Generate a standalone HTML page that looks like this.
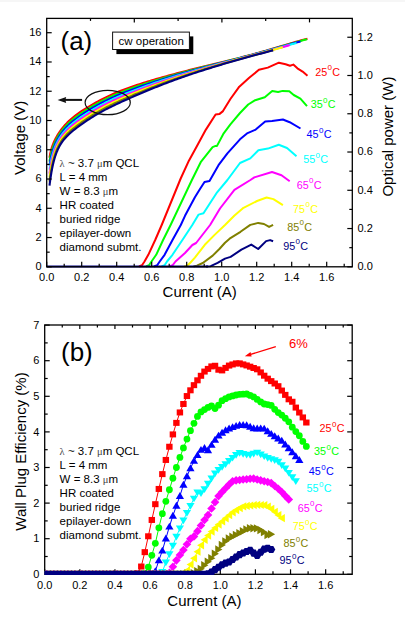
<!DOCTYPE html><html><head><meta charset="utf-8"><style>html,body{margin:0;padding:0;background:#fff;}svg{display:block;}</style></head><body>
<svg width="405" height="618" viewBox="0 0 405 618">
<rect x="0" y="0" width="405" height="618" fill="#fff"/>
<rect x="0" y="0" width="405" height="2" fill="#f6f6f6"/>
<g fill="none" stroke-width="2.1" stroke-linejoin="round" stroke-linecap="butt">
<path stroke="#FF0000" d="M49.52,157.73 L49.63,157.02 L49.75,156.30 L49.88,155.57 L50.02,154.82 L50.16,154.07 L50.33,153.30 L50.50,152.52 L50.69,151.72 L50.89,150.91 L51.11,150.09 L51.34,149.24 L51.60,148.38 L51.88,147.50 L52.17,146.60 L52.50,145.68 L52.84,144.73 L53.22,143.77 L53.63,142.77 L54.06,141.76 L54.54,140.71 L55.05,139.64 L55.61,138.54 L56.21,137.41 L56.86,136.25 L57.56,135.06 L58.32,133.83 L59.14,132.57 L60.02,131.28 L60.98,129.96 L63.00,127.38 L65.02,125.03 L67.06,122.87 L69.11,120.87 L71.16,119.02 L73.21,117.29 L75.27,115.66 L77.33,114.11 L79.40,112.64 L81.47,111.23 L83.53,109.87 L85.60,108.56 L87.67,107.28 L89.75,106.04 L91.82,104.83 L93.89,103.65 L95.96,102.50 L98.04,101.38 L100.11,100.28 L102.18,99.20 L104.25,98.16 L106.33,97.14 L108.40,96.14 L110.48,95.18 L112.55,94.24 L114.62,93.33 L116.70,92.44 L118.77,91.58 L120.84,90.75 L122.92,89.94 L124.99,89.16 L127.07,88.39 L129.14,87.64 L131.21,86.92 L133.29,86.21 L135.36,85.51 L137.44,84.82 L139.51,84.15 L141.58,83.49 L143.66,82.84 L145.73,82.20 L147.81,81.56 L149.88,80.94 L151.95,80.32 L154.03,79.70 L156.10,79.10 L158.18,78.50 L160.25,77.91 L162.32,77.32 L164.40,76.73 L166.47,76.16 L168.55,75.59 L170.62,75.02 L172.69,74.46 L174.77,73.90 L176.84,73.35 L178.92,72.80 L180.99,72.26 L183.06,71.72 L185.14,71.18 L187.21,70.65 L189.28,70.12 L191.36,69.60 L193.43,69.08 L195.51,68.56 L197.58,68.05 L199.65,67.54 L201.73,67.03 L203.80,66.52 L205.88,66.02 L207.95,65.51 L210.02,65.01 L212.10,64.51 L214.17,64.01 L216.25,63.51 L218.32,63.01 L220.39,62.51 L222.47,62.00 L224.54,61.50 L226.62,61.00 L228.69,60.49 L230.76,59.98 L232.84,59.47 L234.91,58.96 L236.99,58.44 L239.06,57.92 L241.13,57.40 L243.21,56.87 L245.28,56.34 L247.36,55.80 L249.43,55.25 L251.50,54.70 L253.58,54.14 L255.65,53.58 L257.73,53.01 L259.80,52.43 L261.87,51.85 L263.95,51.26 L266.02,50.66 L268.09,50.06 L270.17,49.46 L272.24,48.85 L274.32,48.23 L276.39,47.62 L278.46,47.00 L280.54,46.38 L282.61,45.77 L284.69,45.15 L286.76,44.54 L288.83,43.93 L290.91,43.32 L292.98,42.72 L295.06,42.12 L297.13,41.53 L299.20,40.94 L301.28,40.36 L303.35,39.78 L305.43,39.21 L307.50,38.64"/>
<path stroke="#00FF00" d="M49.52,161.71 L49.63,160.97 L49.75,160.22 L49.88,159.45 L50.02,158.66 L50.16,157.85 L50.33,157.03 L50.50,156.19 L50.69,155.32 L50.89,154.44 L51.11,153.54 L51.34,152.61 L51.60,151.67 L51.88,150.70 L52.17,149.70 L52.50,148.69 L52.84,147.65 L53.22,146.59 L53.63,145.50 L54.06,144.39 L54.54,143.25 L55.05,142.09 L55.61,140.90 L56.21,139.69 L56.86,138.46 L57.56,137.20 L58.32,135.91 L59.14,134.61 L60.02,133.27 L60.98,131.91 L62.99,129.30 L65.02,126.93 L67.05,124.77 L69.09,122.78 L71.14,120.93 L73.19,119.20 L75.24,117.57 L77.30,116.03 L79.36,114.55 L81.42,113.13 L83.49,111.76 L85.55,110.43 L87.62,109.14 L89.69,107.89 L91.75,106.67 L93.82,105.47 L95.89,104.31 L97.96,103.17 L100.03,102.06 L102.10,100.98 L104.17,99.93 L106.24,98.90 L108.31,97.89 L110.37,96.92 L112.44,95.97 L114.51,95.05 L116.58,94.15 L118.65,93.28 L120.72,92.43 L122.79,91.60 L124.86,90.79 L126.93,90.00 L129.00,89.23 L131.07,88.48 L133.14,87.74 L135.21,87.01 L137.28,86.30 L139.35,85.60 L141.42,84.90 L143.49,84.22 L145.56,83.55 L147.63,82.88 L149.70,82.22 L151.77,81.57 L153.84,80.93 L155.91,80.29 L157.98,79.66 L160.05,79.04 L162.12,78.42 L164.19,77.80 L166.26,77.20 L168.33,76.60 L170.40,76.00 L172.47,75.41 L174.54,74.82 L176.61,74.24 L178.68,73.67 L180.75,73.10 L182.82,72.53 L184.88,71.97 L186.95,71.41 L189.02,70.86 L191.09,70.31 L193.16,69.77 L195.23,69.23 L197.30,68.69 L199.37,68.16 L201.44,67.63 L203.51,67.10 L205.58,66.57 L207.65,66.05 L209.72,65.52 L211.79,65.00 L213.86,64.48 L215.93,63.97 L218.00,63.45 L220.07,62.93 L222.14,62.41 L224.21,61.90 L226.28,61.38 L228.35,60.86 L230.42,60.34 L232.49,59.82 L234.56,59.30 L236.63,58.77 L238.70,58.24 L240.77,57.71 L242.84,57.18 L244.91,56.64 L246.98,56.10 L249.05,55.55 L251.12,55.00 L253.19,54.45 L255.26,53.89 L257.33,53.32 L259.40,52.75 L261.47,52.17 L263.54,51.59 L265.61,51.00 L267.67,50.41 L269.74,49.82 L271.81,49.22 L273.88,48.62 L275.95,48.02 L278.02,47.42 L280.09,46.81 L282.16,46.21 L284.23,45.61 L286.30,45.01 L288.37,44.41 L290.44,43.82 L292.51,43.23 L294.58,42.65 L296.65,42.07 L298.72,41.49 L300.79,40.92 L302.86,40.35 L304.93,39.79 L307.00,39.24"/>
<path stroke="#0000FF" d="M49.52,165.69 L49.63,164.92 L49.75,164.13 L49.88,163.32 L50.02,162.49 L50.16,161.64 L50.33,160.76 L50.50,159.85 L50.69,158.92 L50.89,157.97 L51.11,156.99 L51.34,155.98 L51.60,154.95 L51.88,153.89 L52.17,152.81 L52.50,151.70 L52.84,150.56 L53.22,149.41 L53.63,148.22 L54.06,147.02 L54.54,145.79 L55.05,144.54 L55.61,143.27 L56.21,141.98 L56.86,140.67 L57.56,139.34 L58.32,138.00 L59.14,136.64 L60.02,135.26 L60.98,133.87 L62.94,131.28 L64.91,128.95 L66.89,126.83 L68.87,124.88 L70.86,123.06 L72.86,121.37 L74.86,119.76 L76.87,118.24 L78.87,116.78 L80.88,115.37 L82.89,114.02 L84.90,112.70 L86.91,111.42 L88.92,110.17 L90.94,108.95 L92.95,107.76 L94.96,106.60 L96.98,105.47 L98.99,104.37 L101.01,103.29 L103.02,102.24 L105.03,101.21 L107.05,100.21 L109.06,99.24 L111.08,98.28 L113.09,97.36 L115.11,96.46 L117.12,95.57 L119.14,94.71 L121.15,93.88 L123.17,93.05 L125.18,92.25 L127.20,91.46 L129.21,90.69 L131.23,89.93 L133.24,89.18 L135.26,88.45 L137.27,87.72 L139.29,87.01 L141.31,86.30 L143.32,85.61 L145.34,84.92 L147.35,84.24 L149.37,83.57 L151.38,82.90 L153.40,82.24 L155.41,81.59 L157.43,80.94 L159.44,80.30 L161.46,79.67 L163.47,79.04 L165.49,78.42 L167.50,77.80 L169.52,77.19 L171.53,76.58 L173.55,75.98 L175.56,75.38 L177.58,74.79 L179.59,74.21 L181.61,73.63 L183.62,73.05 L185.64,72.48 L187.65,71.92 L189.67,71.35 L191.68,70.80 L193.70,70.24 L195.71,69.69 L197.73,69.15 L199.74,68.61 L201.76,68.07 L203.77,67.53 L205.79,67.00 L207.80,66.47 L209.82,65.94 L211.83,65.41 L213.85,64.89 L215.86,64.37 L217.88,63.84 L219.89,63.32 L221.91,62.80 L223.93,62.29 L225.94,61.77 L227.96,61.25 L229.97,60.73 L231.99,60.21 L234.00,59.69 L236.02,59.17 L238.03,58.65 L240.05,58.12 L242.06,57.60 L244.08,57.07 L246.09,56.54 L248.11,56.00 L250.12,55.47 L252.14,54.92 L254.15,54.38 L256.17,53.83 L258.18,53.28 L260.20,52.73 L262.21,52.17 L264.23,51.61 L266.24,51.04 L268.26,50.48 L270.27,49.91 L272.29,49.33 L274.30,48.76 L276.32,48.18 L278.33,47.61 L280.35,47.04 L282.36,46.46 L284.38,45.89 L286.39,45.32 L288.41,44.75 L290.42,44.19 L292.44,43.63 L294.45,43.07 L296.47,42.52 L298.48,41.97 L300.50,41.43"/>
<path stroke="#00FFFF" d="M49.52,169.67 L49.63,168.87 L49.75,168.05 L49.88,167.20 L50.02,166.33 L50.16,165.42 L50.33,164.49 L50.50,163.52 L50.69,162.52 L50.89,161.50 L51.11,160.44 L51.34,159.35 L51.60,158.24 L51.88,157.09 L52.17,155.91 L52.50,154.71 L52.84,153.48 L53.22,152.23 L53.63,150.95 L54.06,149.65 L54.54,148.33 L55.05,146.99 L55.61,145.63 L56.21,144.26 L56.86,142.88 L57.56,141.49 L58.32,140.08 L59.14,138.67 L60.02,137.25 L60.98,135.82 L62.91,133.23 L64.84,130.92 L66.79,128.82 L68.74,126.89 L70.70,125.11 L72.66,123.43 L74.63,121.84 L76.60,120.33 L78.57,118.88 L80.54,117.48 L82.52,116.13 L84.50,114.81 L86.47,113.53 L88.45,112.28 L90.43,111.06 L92.41,109.87 L94.39,108.71 L96.37,107.58 L98.35,106.47 L100.33,105.39 L102.31,104.34 L104.30,103.31 L106.28,102.31 L108.26,101.33 L110.24,100.37 L112.22,99.44 L114.20,98.53 L116.18,97.65 L118.16,96.78 L120.15,95.93 L122.13,95.09 L124.11,94.27 L126.09,93.47 L128.07,92.68 L130.05,91.90 L132.03,91.13 L134.02,90.37 L136.00,89.62 L137.98,88.89 L139.96,88.16 L141.94,87.44 L143.92,86.72 L145.91,86.02 L147.89,85.32 L149.87,84.63 L151.85,83.95 L153.83,83.27 L155.81,82.60 L157.79,81.93 L159.78,81.27 L161.76,80.62 L163.74,79.97 L165.72,79.33 L167.70,78.70 L169.68,78.07 L171.66,77.44 L173.65,76.82 L175.63,76.21 L177.61,75.60 L179.59,75.00 L181.57,74.40 L183.55,73.81 L185.54,73.23 L187.52,72.64 L189.50,72.07 L191.48,71.49 L193.46,70.93 L195.44,70.36 L197.42,69.80 L199.41,69.25 L201.39,68.69 L203.37,68.14 L205.35,67.60 L207.33,67.06 L209.31,66.52 L211.29,65.98 L213.28,65.44 L215.26,64.91 L217.24,64.38 L219.22,63.85 L221.20,63.33 L223.18,62.80 L225.17,62.27 L227.15,61.75 L229.13,61.23 L231.11,60.70 L233.09,60.18 L235.07,59.66 L237.05,59.14 L239.04,58.61 L241.02,58.09 L243.00,57.56 L244.98,57.04 L246.96,56.51 L248.94,55.98 L250.93,55.45 L252.91,54.91 L254.89,54.38 L256.87,53.84 L258.85,53.30 L260.83,52.76 L262.81,52.21 L264.80,51.67 L266.78,51.12 L268.76,50.57 L270.74,50.01 L272.72,49.46 L274.70,48.91 L276.68,48.36 L278.67,47.80 L280.65,47.25 L282.63,46.70 L284.61,46.15 L286.59,45.60 L288.57,45.06 L290.56,44.52 L292.54,43.98 L294.52,43.44 L296.50,42.91"/>
<path stroke="#FF00FF" d="M49.52,173.65 L49.63,172.83 L49.75,171.97 L49.88,171.08 L50.02,170.16 L50.16,169.21 L50.33,168.21 L50.50,167.19 L50.69,166.13 L50.89,165.03 L51.11,163.89 L51.34,162.72 L51.60,161.52 L51.88,160.29 L52.17,159.02 L52.50,157.72 L52.84,156.40 L53.22,155.05 L53.63,153.67 L54.06,152.28 L54.54,150.86 L55.05,149.43 L55.61,147.99 L56.21,146.55 L56.86,145.09 L57.56,143.63 L58.32,142.17 L59.14,140.70 L60.02,139.24 L60.98,137.78 L62.85,135.21 L64.73,132.94 L66.62,130.88 L68.51,129.00 L70.42,127.25 L72.32,125.61 L74.23,124.05 L76.14,122.57 L78.06,121.14 L79.98,119.76 L81.89,118.42 L83.81,117.12 L85.73,115.85 L87.65,114.61 L89.58,113.40 L91.50,112.22 L93.42,111.06 L95.34,109.94 L97.27,108.83 L99.19,107.76 L101.11,106.71 L103.04,105.69 L104.96,104.69 L106.89,103.71 L108.81,102.76 L110.73,101.83 L112.66,100.92 L114.58,100.04 L116.51,99.16 L118.43,98.31 L120.36,97.47 L122.28,96.64 L124.20,95.83 L126.13,95.02 L128.05,94.23 L129.98,93.45 L131.90,92.68 L133.83,91.92 L135.75,91.16 L137.67,90.42 L139.60,89.68 L141.52,88.95 L143.45,88.23 L145.37,87.51 L147.30,86.80 L149.22,86.10 L151.15,85.40 L153.07,84.71 L154.99,84.03 L156.92,83.35 L158.84,82.68 L160.77,82.01 L162.69,81.35 L164.62,80.70 L166.54,80.05 L168.46,79.40 L170.39,78.77 L172.31,78.13 L174.24,77.51 L176.16,76.89 L178.09,76.27 L180.01,75.66 L181.94,75.06 L183.86,74.46 L185.78,73.86 L187.71,73.27 L189.63,72.69 L191.56,72.11 L193.48,71.54 L195.41,70.97 L197.33,70.40 L199.25,69.84 L201.18,69.28 L203.10,68.73 L205.03,68.18 L206.95,67.63 L208.88,67.08 L210.80,66.54 L212.73,66.00 L214.65,65.47 L216.57,64.94 L218.50,64.41 L220.42,63.88 L222.35,63.35 L224.27,62.83 L226.20,62.30 L228.12,61.78 L230.04,61.26 L231.97,60.74 L233.89,60.22 L235.82,59.70 L237.74,59.19 L239.67,58.67 L241.59,58.15 L243.52,57.64 L245.44,57.12 L247.36,56.60 L249.29,56.08 L251.21,55.57 L253.14,55.05 L255.06,54.53 L256.99,54.01 L258.91,53.48 L260.83,52.96 L262.76,52.44 L264.68,51.91 L266.61,51.39 L268.53,50.86 L270.46,50.33 L272.38,49.81 L274.31,49.28 L276.23,48.76 L278.15,48.23 L280.08,47.71 L282.00,47.18 L283.93,46.66 L285.85,46.14 L287.78,45.63 L289.70,45.11"/>
<path stroke="#FFFF00" d="M49.52,177.63 L49.63,176.78 L49.75,175.89 L49.88,174.96 L50.02,174.00 L50.16,172.99 L50.33,171.94 L50.50,170.86 L50.69,169.73 L50.89,168.56 L51.11,167.35 L51.34,166.10 L51.60,164.81 L51.88,163.48 L52.17,162.12 L52.50,160.73 L52.84,159.31 L53.22,157.87 L53.63,156.39 L54.06,154.91 L54.54,153.40 L55.05,151.88 L55.61,150.36 L56.21,148.83 L56.86,147.30 L57.56,145.77 L58.32,144.25 L59.14,142.74 L60.02,141.23 L60.98,139.73 L62.80,137.20 L64.62,134.96 L66.45,132.95 L68.29,131.11 L70.13,129.40 L71.98,127.79 L73.83,126.27 L75.69,124.81 L77.55,123.41 L79.41,122.05 L81.27,120.72 L83.13,119.44 L84.99,118.18 L86.86,116.96 L88.72,115.76 L90.58,114.58 L92.45,113.44 L94.32,112.32 L96.18,111.22 L98.05,110.15 L99.91,109.11 L101.78,108.09 L103.65,107.09 L105.52,106.12 L107.38,105.18 L109.25,104.25 L111.12,103.34 L112.98,102.46 L114.85,101.58 L116.72,100.73 L118.58,99.89 L120.45,99.06 L122.32,98.24 L124.19,97.43 L126.05,96.63 L127.92,95.84 L129.79,95.06 L131.65,94.28 L133.52,93.52 L135.39,92.76 L137.26,92.00 L139.12,91.26 L140.99,90.52 L142.86,89.79 L144.73,89.06 L146.59,88.34 L148.46,87.63 L150.33,86.92 L152.19,86.22 L154.06,85.52 L155.93,84.83 L157.80,84.15 L159.66,83.47 L161.53,82.80 L163.40,82.13 L165.26,81.47 L167.13,80.82 L169.00,80.17 L170.87,79.52 L172.73,78.88 L174.60,78.25 L176.47,77.62 L178.34,77.00 L180.20,76.39 L182.07,75.77 L183.94,75.17 L185.80,74.57 L187.67,73.97 L189.54,73.38 L191.41,72.80 L193.27,72.22 L195.14,71.64 L197.01,71.07 L198.87,70.50 L200.74,69.94 L202.61,69.38 L204.48,68.83 L206.34,68.27 L208.21,67.73 L210.08,67.18 L211.95,66.64 L213.81,66.10 L215.68,65.57 L217.55,65.04 L219.41,64.51 L221.28,63.98 L223.15,63.45 L225.02,62.93 L226.88,62.41 L228.75,61.89 L230.62,61.38 L232.48,60.86 L234.35,60.35 L236.22,59.84 L238.09,59.33 L239.95,58.82 L241.82,58.31 L243.69,57.80 L245.56,57.29 L247.42,56.79 L249.29,56.28 L251.16,55.78 L253.02,55.27 L254.89,54.77 L256.76,54.26 L258.63,53.76 L260.49,53.26 L262.36,52.75 L264.23,52.25 L266.09,51.75 L267.96,51.25 L269.83,50.74 L271.70,50.24 L273.56,49.74 L275.43,49.24 L277.30,48.74 L279.17,48.25 L281.03,47.75 L282.90,47.25"/>
<path stroke="#808000" d="M49.52,181.61 L49.63,180.73 L49.75,179.81 L49.88,178.84 L50.02,177.83 L50.16,176.78 L50.33,175.67 L50.50,174.52 L50.69,173.33 L50.89,172.08 L51.11,170.80 L51.34,169.47 L51.60,168.09 L51.88,166.68 L52.17,165.23 L52.50,163.74 L52.84,162.23 L53.22,160.68 L53.63,159.12 L54.06,157.54 L54.54,155.94 L55.05,154.33 L55.61,152.72 L56.21,151.11 L56.86,149.51 L57.56,147.92 L58.32,146.34 L59.14,144.77 L60.02,143.22 L60.98,141.69 L62.72,139.22 L64.46,137.05 L66.21,135.09 L67.96,133.31 L69.73,131.66 L71.49,130.10 L73.26,128.63 L75.03,127.21 L76.81,125.85 L78.59,124.53 L80.36,123.24 L82.14,121.98 L83.92,120.75 L85.70,119.55 L87.49,118.38 L89.27,117.23 L91.05,116.10 L92.83,114.99 L94.62,113.92 L96.40,112.86 L98.19,111.83 L99.97,110.82 L101.75,109.84 L103.54,108.88 L105.32,107.94 L107.11,107.02 L108.89,106.13 L110.68,105.25 L112.46,104.39 L114.25,103.54 L116.03,102.71 L117.82,101.88 L119.60,101.07 L121.39,100.27 L123.17,99.47 L124.96,98.68 L126.74,97.90 L128.53,97.13 L130.31,96.36 L132.10,95.60 L133.88,94.84 L135.66,94.09 L137.45,93.35 L139.23,92.61 L141.02,91.87 L142.80,91.15 L144.59,90.42 L146.37,89.71 L148.16,89.00 L149.94,88.29 L151.73,87.59 L153.51,86.90 L155.30,86.21 L157.08,85.53 L158.87,84.85 L160.65,84.18 L162.44,83.51 L164.22,82.85 L166.01,82.20 L167.79,81.54 L169.58,80.90 L171.36,80.26 L173.15,79.63 L174.93,79.00 L176.72,78.37 L178.50,77.75 L180.29,77.14 L182.07,76.53 L183.86,75.93 L185.64,75.33 L187.43,74.74 L189.21,74.16 L191.00,73.57 L192.78,73.00 L194.57,72.42 L196.35,71.85 L198.14,71.29 L199.92,70.73 L201.71,70.17 L203.49,69.62 L205.27,69.08 L207.06,68.53 L208.84,67.99 L210.63,67.45 L212.41,66.92 L214.20,66.39 L215.98,65.86 L217.77,65.34 L219.55,64.82 L221.34,64.30 L223.12,63.78 L224.91,63.27 L226.69,62.76 L228.48,62.25 L230.26,61.75 L232.05,61.24 L233.83,60.74 L235.62,60.24 L237.40,59.75 L239.19,59.25 L240.97,58.76 L242.76,58.27 L244.54,57.78 L246.33,57.29 L248.11,56.80 L249.90,56.32 L251.68,55.83 L253.47,55.35 L255.25,54.87 L257.04,54.39 L258.82,53.91 L260.61,53.43 L262.39,52.95 L264.18,52.48 L265.96,52.00 L267.75,51.53 L269.53,51.06 L271.32,50.59 L273.10,50.12"/>
<path stroke="#000080" d="M49.52,185.59 L49.63,184.68 L49.75,183.73 L49.88,182.72 L50.02,181.67 L50.16,180.56 L50.33,179.40 L50.50,178.19 L50.69,176.93 L50.89,175.61 L51.11,174.25 L51.34,172.84 L51.60,171.38 L51.88,169.88 L52.17,168.33 L52.50,166.76 L52.84,165.14 L53.22,163.50 L53.63,161.84 L54.06,160.16 L54.54,158.47 L55.05,156.78 L55.61,155.09 L56.21,153.40 L56.86,151.72 L57.56,150.06 L58.32,148.42 L59.14,146.80 L60.02,145.21 L60.98,143.64 L62.72,141.14 L64.46,138.94 L66.21,136.98 L67.96,135.20 L69.73,133.55 L71.49,132.00 L73.26,130.52 L75.03,129.11 L76.81,127.74 L78.59,126.41 L80.36,125.12 L82.14,123.85 L83.92,122.61 L85.70,121.40 L87.49,120.21 L89.27,119.04 L91.05,117.90 L92.83,116.79 L94.62,115.69 L96.40,114.63 L98.19,113.59 L99.97,112.57 L101.75,111.58 L103.54,110.61 L105.32,109.66 L107.11,108.74 L108.89,107.83 L110.68,106.94 L112.46,106.07 L114.25,105.21 L116.03,104.37 L117.82,103.53 L119.60,102.71 L121.39,101.89 L123.17,101.08 L124.96,100.27 L126.74,99.47 L128.53,98.67 L130.31,97.88 L132.10,97.10 L133.88,96.31 L135.66,95.54 L137.45,94.77 L139.23,94.00 L141.02,93.24 L142.80,92.49 L144.59,91.74 L146.37,90.99 L148.16,90.26 L149.94,89.52 L151.73,88.80 L153.51,88.07 L155.30,87.36 L157.08,86.65 L158.87,85.94 L160.65,85.24 L162.44,84.55 L164.22,83.86 L166.01,83.18 L167.79,82.50 L169.58,81.83 L171.36,81.17 L173.15,80.51 L174.93,79.85 L176.72,79.21 L178.50,78.56 L180.29,77.93 L182.07,77.29 L183.86,76.67 L185.64,76.05 L187.43,75.43 L189.21,74.82 L191.00,74.22 L192.78,73.62 L194.57,73.03 L196.35,72.44 L198.14,71.85 L199.92,71.27 L201.71,70.70 L203.49,70.13 L205.27,69.56 L207.06,69.00 L208.84,68.44 L210.63,67.89 L212.41,67.34 L214.20,66.79 L215.98,66.25 L217.77,65.71 L219.55,65.17 L221.34,64.64 L223.12,64.11 L224.91,63.58 L226.69,63.06 L228.48,62.54 L230.26,62.02 L232.05,61.51 L233.83,61.00 L235.62,60.49 L237.40,59.98 L239.19,59.48 L240.97,58.98 L242.76,58.48 L244.54,57.99 L246.33,57.49 L248.11,57.00 L249.90,56.51 L251.68,56.03 L253.47,55.55 L255.25,55.06 L257.04,54.59 L258.82,54.11 L260.61,53.64 L262.39,53.16 L264.18,52.69 L265.96,52.23 L267.75,51.76 L269.53,51.30 L271.32,50.83 L273.10,50.37"/>
</g>
<g fill="none" stroke-width="2" stroke-linejoin="round">
<path stroke="#FF0000" d="M139.00,266.50 L142.00,265.20 L144.50,261.50 L148.30,254.80 L155.20,240.00 L161.70,225.00 L180.70,178.50 L188.90,160.70 L197.80,144.40 L205.90,129.60 L215.60,114.50 L219.30,114.10 L223.00,111.10 L230.40,99.00 L239.30,86.70 L249.20,77.80 L258.90,69.80 L267.80,67.60 L278.90,62.70 L285.60,64.20 L290.00,65.70 L293.30,64.60 L297.40,68.30 L302.60,71.60 L307.50,75.70"/>
<path stroke="#00FF00" d="M146.00,266.50 L149.00,265.20 L151.50,261.50 L156.20,254.80 L163.10,240.00 L170.60,225.00 L191.90,180.00 L200.70,162.20 L212.60,147.10 L215.60,145.90 L217.00,145.90 L223.70,133.30 L230.40,124.40 L240.00,113.00 L248.20,104.50 L255.20,100.20 L264.80,97.20 L272.20,91.00 L278.10,92.00 L282.60,90.90 L289.30,91.30 L293.70,95.00 L300.40,98.70 L307.00,106.10"/>
<path stroke="#0000FF" d="M154.00,266.50 L157.20,265.30 L159.70,261.50 L164.60,254.80 L172.50,240.00 L180.80,225.00 L185.00,215.80 L194.90,197.30 L200.00,189.00 L204.50,182.00 L209.50,181.00 L218.50,165.20 L227.40,153.30 L240.00,139.30 L247.60,133.10 L255.70,129.60 L265.20,121.40 L272.00,120.90 L282.90,119.50 L289.70,122.20 L300.50,128.50"/>
<path stroke="#00FFFF" d="M161.50,266.50 L164.60,265.30 L167.00,261.50 L172.50,254.80 L182.40,240.00 L192.30,225.00 L198.60,214.60 L203.50,213.30 L217.10,192.30 L227.40,180.00 L240.00,163.00 L250.30,158.40 L258.40,150.20 L267.90,148.60 L278.80,144.80 L287.00,148.00 L296.50,156.20"/>
<path stroke="#FF00FF" d="M169.50,266.50 L172.50,265.30 L175.50,261.50 L185.00,253.00 L192.40,245.00 L196.10,243.00 L210.10,225.00 L220.00,208.50 L234.40,189.90 L250.40,180.00 L254.30,177.40 L272.00,172.00 L281.50,175.20 L289.70,181.20"/>
<path stroke="#FFFF00" d="M184.00,266.50 L187.50,265.50 L190.50,262.50 L194.90,257.60 L204.80,244.80 L214.60,234.90 L225.00,225.00 L234.50,215.50 L243.50,207.80 L257.00,201.00 L266.60,197.50 L273.40,199.10 L282.90,205.10"/>
<path stroke="#808000" d="M193.50,266.50 L196.90,265.60 L202.80,263.00 L212.70,255.60 L219.60,248.70 L225.00,242.80 L229.60,238.70 L240.50,231.80 L250.30,224.90 L258.20,222.90 L264.00,224.00 L269.10,226.90 L273.10,224.90"/>
<path stroke="#000080" d="M206.00,266.50 L210.70,266.20 L217.60,262.80 L225.00,258.60 L230.60,256.90 L241.40,249.60 L251.30,244.60 L258.20,249.00 L266.10,241.10 L270.10,240.10 L273.10,241.30"/>
</g>
<line x1="46.7" y1="266.6" x2="208" y2="266.6" stroke="#000080" stroke-width="2"/>
<rect x="46.7" y="18.4" width="305.6" height="248.4" fill="none" stroke="#000" stroke-width="1.3"/>
<g stroke="#000" stroke-width="1.2">
<line x1="46.70" y1="266.80" x2="46.70" y2="261.80"/>
<line x1="64.20" y1="266.80" x2="64.20" y2="263.80"/>
<line x1="81.70" y1="266.80" x2="81.70" y2="261.80"/>
<line x1="99.20" y1="266.80" x2="99.20" y2="263.80"/>
<line x1="116.70" y1="266.80" x2="116.70" y2="261.80"/>
<line x1="134.20" y1="266.80" x2="134.20" y2="263.80"/>
<line x1="151.70" y1="266.80" x2="151.70" y2="261.80"/>
<line x1="169.20" y1="266.80" x2="169.20" y2="263.80"/>
<line x1="186.70" y1="266.80" x2="186.70" y2="261.80"/>
<line x1="204.20" y1="266.80" x2="204.20" y2="263.80"/>
<line x1="221.70" y1="266.80" x2="221.70" y2="261.80"/>
<line x1="239.20" y1="266.80" x2="239.20" y2="263.80"/>
<line x1="256.70" y1="266.80" x2="256.70" y2="261.80"/>
<line x1="274.20" y1="266.80" x2="274.20" y2="263.80"/>
<line x1="291.70" y1="266.80" x2="291.70" y2="261.80"/>
<line x1="309.20" y1="266.80" x2="309.20" y2="263.80"/>
<line x1="326.70" y1="266.80" x2="326.70" y2="261.80"/>
<line x1="344.20" y1="266.80" x2="344.20" y2="263.80"/>
<line x1="90.50" y1="18.40" x2="90.50" y2="20.90"/>
<line x1="134.30" y1="18.40" x2="134.30" y2="22.40"/>
<line x1="178.10" y1="18.40" x2="178.10" y2="20.90"/>
<line x1="221.90" y1="18.40" x2="221.90" y2="22.40"/>
<line x1="265.70" y1="18.40" x2="265.70" y2="20.90"/>
<line x1="309.50" y1="18.40" x2="309.50" y2="22.40"/>
<line x1="46.70" y1="266.80" x2="51.70" y2="266.80"/>
<line x1="46.70" y1="252.17" x2="49.70" y2="252.17"/>
<line x1="46.70" y1="237.54" x2="51.70" y2="237.54"/>
<line x1="46.70" y1="222.91" x2="49.70" y2="222.91"/>
<line x1="46.70" y1="208.28" x2="51.70" y2="208.28"/>
<line x1="46.70" y1="193.65" x2="49.70" y2="193.65"/>
<line x1="46.70" y1="179.02" x2="51.70" y2="179.02"/>
<line x1="46.70" y1="164.39" x2="49.70" y2="164.39"/>
<line x1="46.70" y1="149.76" x2="51.70" y2="149.76"/>
<line x1="46.70" y1="135.13" x2="49.70" y2="135.13"/>
<line x1="46.70" y1="120.50" x2="51.70" y2="120.50"/>
<line x1="46.70" y1="105.87" x2="49.70" y2="105.87"/>
<line x1="46.70" y1="91.24" x2="51.70" y2="91.24"/>
<line x1="46.70" y1="76.61" x2="49.70" y2="76.61"/>
<line x1="46.70" y1="61.98" x2="51.70" y2="61.98"/>
<line x1="46.70" y1="47.35" x2="49.70" y2="47.35"/>
<line x1="46.70" y1="32.72" x2="51.70" y2="32.72"/>
<line x1="352.30" y1="266.80" x2="347.30" y2="266.80"/>
<line x1="352.30" y1="247.67" x2="349.30" y2="247.67"/>
<line x1="352.30" y1="228.54" x2="347.30" y2="228.54"/>
<line x1="352.30" y1="209.41" x2="349.30" y2="209.41"/>
<line x1="352.30" y1="190.28" x2="347.30" y2="190.28"/>
<line x1="352.30" y1="171.15" x2="349.30" y2="171.15"/>
<line x1="352.30" y1="152.02" x2="347.30" y2="152.02"/>
<line x1="352.30" y1="132.89" x2="349.30" y2="132.89"/>
<line x1="352.30" y1="113.76" x2="347.30" y2="113.76"/>
<line x1="352.30" y1="94.63" x2="349.30" y2="94.63"/>
<line x1="352.30" y1="75.50" x2="347.30" y2="75.50"/>
<line x1="352.30" y1="56.37" x2="349.30" y2="56.37"/>
<line x1="352.30" y1="37.24" x2="347.30" y2="37.24"/>
</g>
<g font-family="Liberation Sans, sans-serif" font-size="11" fill="#000">
<text x="41.5" y="270.20" text-anchor="end">0</text>
<text x="41.5" y="240.94" text-anchor="end">2</text>
<text x="41.5" y="211.68" text-anchor="end">4</text>
<text x="41.5" y="182.42" text-anchor="end">6</text>
<text x="41.5" y="153.16" text-anchor="end">8</text>
<text x="41.5" y="123.90" text-anchor="end">10</text>
<text x="41.5" y="94.64" text-anchor="end">12</text>
<text x="41.5" y="65.38" text-anchor="end">14</text>
<text x="41.5" y="36.12" text-anchor="end">16</text>
<text x="46.70" y="281.3" text-anchor="middle">0.0</text>
<text x="81.70" y="281.3" text-anchor="middle">0.2</text>
<text x="116.70" y="281.3" text-anchor="middle">0.4</text>
<text x="151.70" y="281.3" text-anchor="middle">0.6</text>
<text x="186.70" y="281.3" text-anchor="middle">0.8</text>
<text x="221.70" y="281.3" text-anchor="middle">1.0</text>
<text x="256.70" y="281.3" text-anchor="middle">1.2</text>
<text x="291.70" y="281.3" text-anchor="middle">1.4</text>
<text x="326.70" y="281.3" text-anchor="middle">1.6</text>
<text x="357.5" y="270.10">0.0</text>
<text x="357.5" y="231.84">0.2</text>
<text x="357.5" y="193.58">0.4</text>
<text x="357.5" y="155.32">0.6</text>
<text x="357.5" y="117.06">0.8</text>
<text x="357.5" y="78.80">1.0</text>
<text x="357.5" y="40.54">1.2</text>
</g>
<text font-family="Liberation Sans, sans-serif" font-size="15" fill="#000" text-anchor="middle" transform="translate(25.4,137.8) rotate(-90)">Voltage (V)</text>
<text font-family="Liberation Sans, sans-serif" font-size="15" fill="#000" text-anchor="middle" x="199.7" y="297.2">Current (A)</text>
<text font-family="Liberation Sans, sans-serif" font-size="15" fill="#000" text-anchor="middle" transform="translate(393,136.6) rotate(-90)">Optical power (W)</text>
<text font-family="Liberation Sans, sans-serif" font-size="26" fill="#000" x="60.5" y="49.8">(a)</text>
<rect x="116.4" y="36.4" width="76.9" height="17.7" fill="#000"/>
<rect x="112.6" y="32.1" width="76.8" height="17.4" fill="#fff" stroke="#111" stroke-width="1"/>
<text font-family="Liberation Sans, sans-serif" font-size="11.5" fill="#000" x="118.6" y="45">cw operation</text>
<ellipse cx="107.7" cy="102.5" rx="22.6" ry="12.2" fill="none" stroke="#111" stroke-width="1.2"/>
<line x1="64" y1="99.9" x2="82.1" y2="99.9" stroke="#111" stroke-width="2"/>
<path d="M57.6,99.9 L66.2,96.9 L65.4,99.9 L66.2,102.9 Z" fill="#111"/>
<g font-family="Liberation Sans, sans-serif" font-size="11.5" fill="#000">
<text x="59.6" y="167.10"><tspan font-family="Liberation Serif" font-size="10.5" fill="#444">λ</tspan> ~ 3.7 <tspan font-family="Liberation Serif" font-size="10.5" fill="#444">μ</tspan>m QCL</text>
<text x="59.6" y="181.00">L = 4 mm</text>
<text x="59.6" y="194.90">W = 8.3 <tspan font-family="Liberation Serif" font-size="10.5" fill="#444">μ</tspan>m</text>
<text x="59.6" y="208.80">HR coated</text>
<text x="59.6" y="222.70">buried ridge</text>
<text x="59.6" y="236.60">epilayer-down</text>
<text x="59.6" y="250.50">diamond submt.</text>
</g>
<text font-family="Liberation Sans, sans-serif" font-size="10.8" fill="#FF0000" x="315.2" y="75.7">25<tspan font-size="8" dx="0.4" dy="-5.3">0</tspan><tspan dx="0.3" dy="5.3">C</tspan></text>
<text font-family="Liberation Sans, sans-serif" font-size="10.8" fill="#00FF00" x="310.7" y="108.0">35<tspan font-size="8" dx="0.4" dy="-5.3">0</tspan><tspan dx="0.3" dy="5.3">C</tspan></text>
<text font-family="Liberation Sans, sans-serif" font-size="10.8" fill="#0000FF" x="306.6" y="138.3">45<tspan font-size="8" dx="0.4" dy="-5.3">0</tspan><tspan dx="0.3" dy="5.3">C</tspan></text>
<text font-family="Liberation Sans, sans-serif" font-size="10.8" fill="#00FFFF" x="303.2" y="163.4">55<tspan font-size="8" dx="0.4" dy="-5.3">0</tspan><tspan dx="0.3" dy="5.3">C</tspan></text>
<text font-family="Liberation Sans, sans-serif" font-size="10.8" fill="#FF00FF" x="296.7" y="188.5">65<tspan font-size="8" dx="0.4" dy="-5.3">0</tspan><tspan dx="0.3" dy="5.3">C</tspan></text>
<text font-family="Liberation Sans, sans-serif" font-size="10.8" fill="#FFFF00" x="293.1" y="212.7">75<tspan font-size="8" dx="0.4" dy="-5.3">0</tspan><tspan dx="0.3" dy="5.3">C</tspan></text>
<text font-family="Liberation Sans, sans-serif" font-size="10.8" fill="#808000" x="287.2" y="230.5">85<tspan font-size="8" dx="0.4" dy="-5.3">0</tspan><tspan dx="0.3" dy="5.3">C</tspan></text>
<text font-family="Liberation Sans, sans-serif" font-size="10.8" fill="#000080" x="283.2" y="249.7">95<tspan font-size="8" dx="0.4" dy="-5.3">0</tspan><tspan dx="0.3" dy="5.3">C</tspan></text>
<rect x="44.7" y="325.0" width="307.5" height="249.3" fill="none" stroke="#000" stroke-width="1.3"/>
<g stroke="#000" stroke-width="1.2">
<line x1="44.70" y1="574.30" x2="44.70" y2="569.30"/>
<line x1="62.26" y1="574.30" x2="62.26" y2="571.30"/>
<line x1="62.26" y1="325.00" x2="62.26" y2="327.50"/>
<line x1="79.82" y1="574.30" x2="79.82" y2="569.30"/>
<line x1="79.82" y1="325.00" x2="79.82" y2="329.00"/>
<line x1="97.38" y1="574.30" x2="97.38" y2="571.30"/>
<line x1="97.38" y1="325.00" x2="97.38" y2="327.50"/>
<line x1="114.94" y1="574.30" x2="114.94" y2="569.30"/>
<line x1="114.94" y1="325.00" x2="114.94" y2="329.00"/>
<line x1="132.50" y1="574.30" x2="132.50" y2="571.30"/>
<line x1="132.50" y1="325.00" x2="132.50" y2="327.50"/>
<line x1="150.06" y1="574.30" x2="150.06" y2="569.30"/>
<line x1="150.06" y1="325.00" x2="150.06" y2="329.00"/>
<line x1="167.62" y1="574.30" x2="167.62" y2="571.30"/>
<line x1="167.62" y1="325.00" x2="167.62" y2="327.50"/>
<line x1="185.18" y1="574.30" x2="185.18" y2="569.30"/>
<line x1="185.18" y1="325.00" x2="185.18" y2="329.00"/>
<line x1="202.74" y1="574.30" x2="202.74" y2="571.30"/>
<line x1="202.74" y1="325.00" x2="202.74" y2="327.50"/>
<line x1="220.30" y1="574.30" x2="220.30" y2="569.30"/>
<line x1="220.30" y1="325.00" x2="220.30" y2="329.00"/>
<line x1="237.86" y1="574.30" x2="237.86" y2="571.30"/>
<line x1="237.86" y1="325.00" x2="237.86" y2="327.50"/>
<line x1="255.42" y1="574.30" x2="255.42" y2="569.30"/>
<line x1="255.42" y1="325.00" x2="255.42" y2="329.00"/>
<line x1="272.98" y1="574.30" x2="272.98" y2="571.30"/>
<line x1="272.98" y1="325.00" x2="272.98" y2="327.50"/>
<line x1="290.54" y1="574.30" x2="290.54" y2="569.30"/>
<line x1="290.54" y1="325.00" x2="290.54" y2="329.00"/>
<line x1="308.10" y1="574.30" x2="308.10" y2="571.30"/>
<line x1="308.10" y1="325.00" x2="308.10" y2="327.50"/>
<line x1="325.66" y1="574.30" x2="325.66" y2="569.30"/>
<line x1="325.66" y1="325.00" x2="325.66" y2="329.00"/>
<line x1="343.22" y1="574.30" x2="343.22" y2="571.30"/>
<line x1="343.22" y1="325.00" x2="343.22" y2="327.50"/>
<line x1="44.70" y1="574.30" x2="49.70" y2="574.30"/>
<line x1="352.20" y1="574.30" x2="347.20" y2="574.30"/>
<line x1="44.70" y1="556.50" x2="47.70" y2="556.50"/>
<line x1="352.20" y1="556.50" x2="349.20" y2="556.50"/>
<line x1="44.70" y1="538.70" x2="49.70" y2="538.70"/>
<line x1="352.20" y1="538.70" x2="347.20" y2="538.70"/>
<line x1="44.70" y1="520.90" x2="47.70" y2="520.90"/>
<line x1="352.20" y1="520.90" x2="349.20" y2="520.90"/>
<line x1="44.70" y1="503.10" x2="49.70" y2="503.10"/>
<line x1="352.20" y1="503.10" x2="347.20" y2="503.10"/>
<line x1="44.70" y1="485.30" x2="47.70" y2="485.30"/>
<line x1="352.20" y1="485.30" x2="349.20" y2="485.30"/>
<line x1="44.70" y1="467.50" x2="49.70" y2="467.50"/>
<line x1="352.20" y1="467.50" x2="347.20" y2="467.50"/>
<line x1="44.70" y1="449.70" x2="47.70" y2="449.70"/>
<line x1="352.20" y1="449.70" x2="349.20" y2="449.70"/>
<line x1="44.70" y1="431.90" x2="49.70" y2="431.90"/>
<line x1="352.20" y1="431.90" x2="347.20" y2="431.90"/>
<line x1="44.70" y1="414.10" x2="47.70" y2="414.10"/>
<line x1="352.20" y1="414.10" x2="349.20" y2="414.10"/>
<line x1="44.70" y1="396.30" x2="49.70" y2="396.30"/>
<line x1="352.20" y1="396.30" x2="347.20" y2="396.30"/>
<line x1="44.70" y1="378.50" x2="47.70" y2="378.50"/>
<line x1="352.20" y1="378.50" x2="349.20" y2="378.50"/>
<line x1="44.70" y1="360.70" x2="49.70" y2="360.70"/>
<line x1="352.20" y1="360.70" x2="347.20" y2="360.70"/>
<line x1="44.70" y1="342.90" x2="47.70" y2="342.90"/>
<line x1="352.20" y1="342.90" x2="349.20" y2="342.90"/>
<line x1="44.70" y1="325.10" x2="49.70" y2="325.10"/>
<line x1="352.20" y1="325.10" x2="347.20" y2="325.10"/>
</g>
<defs><clipPath id="cb"><rect x="44.2" y="320" width="320" height="255"/></clipPath></defs>
<g clip-path="url(#cb)">
<path fill="none" stroke="#FF0000" stroke-width="1" d="M46.46,574.30 L49.97,574.30 L53.48,574.30 L56.99,574.30 L60.50,574.30 L64.02,574.30 L67.53,574.30 L71.04,574.30 L74.55,574.30 L78.06,574.30 L81.58,574.30 L85.09,574.30 L88.60,574.30 L92.11,574.30 L95.62,574.30 L99.14,574.30 L102.65,574.30 L106.16,574.30 L109.67,574.30 L113.18,574.30 L116.70,574.30 L120.21,574.30 L123.72,574.30 L127.23,574.30 L130.74,574.30 L134.26,574.30 L137.77,573.20 L141.28,566.53 L144.79,552.15 L148.30,536.28 L151.82,519.95 L155.33,504.19 L158.84,488.94 L162.35,474.12 L165.86,459.95 L169.38,446.75 L172.89,434.41 L176.40,422.88 L179.91,412.45 L183.42,403.99 L186.94,396.06 L190.45,390.31 L193.96,385.16 L197.47,380.32 L200.98,375.79 L204.50,371.55 L208.01,368.90 L211.52,366.41 L215.03,365.77 L218.54,369.71 L222.06,370.41 L225.57,367.90 L229.08,365.57 L232.59,364.44 L236.10,363.40 L239.62,363.38 L243.13,364.41 L246.64,365.45 L250.15,366.68 L253.66,368.00 L257.18,369.31 L260.69,372.41 L264.20,375.70 L267.71,378.67 L271.22,381.13 L274.74,383.52 L278.25,386.19 L281.76,390.56 L285.27,394.87 L288.78,399.31 L292.30,401.76 L295.81,407.58 L299.32,412.53 L302.83,417.43 L306.34,422.52"/>
<rect x="43.26" y="571.30" width="6.4" height="6" fill="#FF0000"/><rect x="46.77" y="571.30" width="6.4" height="6" fill="#FF0000"/><rect x="50.28" y="571.30" width="6.4" height="6" fill="#FF0000"/><rect x="53.79" y="571.30" width="6.4" height="6" fill="#FF0000"/><rect x="57.30" y="571.30" width="6.4" height="6" fill="#FF0000"/><rect x="60.82" y="571.30" width="6.4" height="6" fill="#FF0000"/><rect x="64.33" y="571.30" width="6.4" height="6" fill="#FF0000"/><rect x="67.84" y="571.30" width="6.4" height="6" fill="#FF0000"/><rect x="71.35" y="571.30" width="6.4" height="6" fill="#FF0000"/><rect x="74.86" y="571.30" width="6.4" height="6" fill="#FF0000"/><rect x="78.38" y="571.30" width="6.4" height="6" fill="#FF0000"/><rect x="81.89" y="571.30" width="6.4" height="6" fill="#FF0000"/><rect x="85.40" y="571.30" width="6.4" height="6" fill="#FF0000"/><rect x="88.91" y="571.30" width="6.4" height="6" fill="#FF0000"/><rect x="92.42" y="571.30" width="6.4" height="6" fill="#FF0000"/><rect x="95.94" y="571.30" width="6.4" height="6" fill="#FF0000"/><rect x="99.45" y="571.30" width="6.4" height="6" fill="#FF0000"/><rect x="102.96" y="571.30" width="6.4" height="6" fill="#FF0000"/><rect x="106.47" y="571.30" width="6.4" height="6" fill="#FF0000"/><rect x="109.98" y="571.30" width="6.4" height="6" fill="#FF0000"/><rect x="113.50" y="571.30" width="6.4" height="6" fill="#FF0000"/><rect x="117.01" y="571.30" width="6.4" height="6" fill="#FF0000"/><rect x="120.52" y="571.30" width="6.4" height="6" fill="#FF0000"/><rect x="124.03" y="571.30" width="6.4" height="6" fill="#FF0000"/><rect x="127.54" y="571.30" width="6.4" height="6" fill="#FF0000"/><rect x="131.06" y="571.30" width="6.4" height="6" fill="#FF0000"/><rect x="134.57" y="570.20" width="6.4" height="6" fill="#FF0000"/><rect x="138.08" y="563.53" width="6.4" height="6" fill="#FF0000"/><rect x="141.59" y="549.15" width="6.4" height="6" fill="#FF0000"/><rect x="145.10" y="533.28" width="6.4" height="6" fill="#FF0000"/><rect x="148.62" y="516.95" width="6.4" height="6" fill="#FF0000"/><rect x="152.13" y="501.19" width="6.4" height="6" fill="#FF0000"/><rect x="155.64" y="485.94" width="6.4" height="6" fill="#FF0000"/><rect x="159.15" y="471.12" width="6.4" height="6" fill="#FF0000"/><rect x="162.66" y="456.95" width="6.4" height="6" fill="#FF0000"/><rect x="166.18" y="443.75" width="6.4" height="6" fill="#FF0000"/><rect x="169.69" y="431.41" width="6.4" height="6" fill="#FF0000"/><rect x="173.20" y="419.88" width="6.4" height="6" fill="#FF0000"/><rect x="176.71" y="409.45" width="6.4" height="6" fill="#FF0000"/><rect x="180.22" y="400.99" width="6.4" height="6" fill="#FF0000"/><rect x="183.74" y="393.06" width="6.4" height="6" fill="#FF0000"/><rect x="187.25" y="387.31" width="6.4" height="6" fill="#FF0000"/><rect x="190.76" y="382.16" width="6.4" height="6" fill="#FF0000"/><rect x="194.27" y="377.32" width="6.4" height="6" fill="#FF0000"/><rect x="197.78" y="372.79" width="6.4" height="6" fill="#FF0000"/><rect x="201.30" y="368.55" width="6.4" height="6" fill="#FF0000"/><rect x="204.81" y="365.90" width="6.4" height="6" fill="#FF0000"/><rect x="208.32" y="363.41" width="6.4" height="6" fill="#FF0000"/><rect x="211.83" y="362.77" width="6.4" height="6" fill="#FF0000"/><rect x="215.34" y="366.71" width="6.4" height="6" fill="#FF0000"/><rect x="218.86" y="367.41" width="6.4" height="6" fill="#FF0000"/><rect x="222.37" y="364.90" width="6.4" height="6" fill="#FF0000"/><rect x="225.88" y="362.57" width="6.4" height="6" fill="#FF0000"/><rect x="229.39" y="361.44" width="6.4" height="6" fill="#FF0000"/><rect x="232.90" y="360.40" width="6.4" height="6" fill="#FF0000"/><rect x="236.42" y="360.38" width="6.4" height="6" fill="#FF0000"/><rect x="239.93" y="361.41" width="6.4" height="6" fill="#FF0000"/><rect x="243.44" y="362.45" width="6.4" height="6" fill="#FF0000"/><rect x="246.95" y="363.68" width="6.4" height="6" fill="#FF0000"/><rect x="250.46" y="365.00" width="6.4" height="6" fill="#FF0000"/><rect x="253.98" y="366.31" width="6.4" height="6" fill="#FF0000"/><rect x="257.49" y="369.41" width="6.4" height="6" fill="#FF0000"/><rect x="261.00" y="372.70" width="6.4" height="6" fill="#FF0000"/><rect x="264.51" y="375.67" width="6.4" height="6" fill="#FF0000"/><rect x="268.02" y="378.13" width="6.4" height="6" fill="#FF0000"/><rect x="271.54" y="380.52" width="6.4" height="6" fill="#FF0000"/><rect x="275.05" y="383.19" width="6.4" height="6" fill="#FF0000"/><rect x="278.56" y="387.56" width="6.4" height="6" fill="#FF0000"/><rect x="282.07" y="391.87" width="6.4" height="6" fill="#FF0000"/><rect x="285.58" y="396.31" width="6.4" height="6" fill="#FF0000"/><rect x="289.10" y="398.76" width="6.4" height="6" fill="#FF0000"/><rect x="292.61" y="404.58" width="6.4" height="6" fill="#FF0000"/><rect x="296.12" y="409.53" width="6.4" height="6" fill="#FF0000"/><rect x="299.63" y="414.43" width="6.4" height="6" fill="#FF0000"/><rect x="303.14" y="419.52" width="6.4" height="6" fill="#FF0000"/>
<path fill="none" stroke="#00FF00" stroke-width="1" d="M46.46,574.30 L49.97,574.30 L53.48,574.30 L56.99,574.30 L60.50,574.30 L64.02,574.30 L67.53,574.30 L71.04,574.30 L74.55,574.30 L78.06,574.30 L81.58,574.30 L85.09,574.30 L88.60,574.30 L92.11,574.30 L95.62,574.30 L99.14,574.30 L102.65,574.30 L106.16,574.30 L109.67,574.30 L113.18,574.30 L116.70,574.30 L120.21,574.30 L123.72,574.30 L127.23,574.30 L130.74,574.30 L134.26,574.30 L137.77,574.30 L141.28,574.30 L144.79,573.28 L148.30,567.10 L151.82,555.28 L155.33,543.30 L158.84,527.82 L162.35,513.70 L165.86,501.35 L169.38,489.76 L172.89,478.25 L176.40,467.48 L179.91,457.40 L183.42,447.94 L186.94,439.06 L190.45,430.72 L193.96,423.36 L197.47,416.43 L200.98,411.91 L204.50,409.61 L208.01,407.45 L211.52,405.85 L215.03,408.58 L218.54,405.20 L222.06,400.66 L225.57,398.65 L229.08,396.95 L232.59,395.94 L236.10,395.02 L239.62,394.33 L243.13,394.15 L246.64,394.02 L250.15,395.42 L253.66,396.91 L257.18,399.41 L260.69,401.91 L264.20,404.01 L267.71,404.59 L271.22,405.42 L274.74,409.33 L278.25,412.60 L281.76,415.05 L285.27,418.27 L288.78,421.84 L292.30,427.19 L295.81,431.56 L299.32,435.75 L302.83,441.40 L306.34,446.45"/>
<circle cx="46.46" cy="574.30" r="3.4" fill="#00FF00"/><circle cx="49.97" cy="574.30" r="3.4" fill="#00FF00"/><circle cx="53.48" cy="574.30" r="3.4" fill="#00FF00"/><circle cx="56.99" cy="574.30" r="3.4" fill="#00FF00"/><circle cx="60.50" cy="574.30" r="3.4" fill="#00FF00"/><circle cx="64.02" cy="574.30" r="3.4" fill="#00FF00"/><circle cx="67.53" cy="574.30" r="3.4" fill="#00FF00"/><circle cx="71.04" cy="574.30" r="3.4" fill="#00FF00"/><circle cx="74.55" cy="574.30" r="3.4" fill="#00FF00"/><circle cx="78.06" cy="574.30" r="3.4" fill="#00FF00"/><circle cx="81.58" cy="574.30" r="3.4" fill="#00FF00"/><circle cx="85.09" cy="574.30" r="3.4" fill="#00FF00"/><circle cx="88.60" cy="574.30" r="3.4" fill="#00FF00"/><circle cx="92.11" cy="574.30" r="3.4" fill="#00FF00"/><circle cx="95.62" cy="574.30" r="3.4" fill="#00FF00"/><circle cx="99.14" cy="574.30" r="3.4" fill="#00FF00"/><circle cx="102.65" cy="574.30" r="3.4" fill="#00FF00"/><circle cx="106.16" cy="574.30" r="3.4" fill="#00FF00"/><circle cx="109.67" cy="574.30" r="3.4" fill="#00FF00"/><circle cx="113.18" cy="574.30" r="3.4" fill="#00FF00"/><circle cx="116.70" cy="574.30" r="3.4" fill="#00FF00"/><circle cx="120.21" cy="574.30" r="3.4" fill="#00FF00"/><circle cx="123.72" cy="574.30" r="3.4" fill="#00FF00"/><circle cx="127.23" cy="574.30" r="3.4" fill="#00FF00"/><circle cx="130.74" cy="574.30" r="3.4" fill="#00FF00"/><circle cx="134.26" cy="574.30" r="3.4" fill="#00FF00"/><circle cx="137.77" cy="574.30" r="3.4" fill="#00FF00"/><circle cx="141.28" cy="574.30" r="3.4" fill="#00FF00"/><circle cx="144.79" cy="573.28" r="3.4" fill="#00FF00"/><circle cx="148.30" cy="567.10" r="3.4" fill="#00FF00"/><circle cx="151.82" cy="555.28" r="3.4" fill="#00FF00"/><circle cx="155.33" cy="543.30" r="3.4" fill="#00FF00"/><circle cx="158.84" cy="527.82" r="3.4" fill="#00FF00"/><circle cx="162.35" cy="513.70" r="3.4" fill="#00FF00"/><circle cx="165.86" cy="501.35" r="3.4" fill="#00FF00"/><circle cx="169.38" cy="489.76" r="3.4" fill="#00FF00"/><circle cx="172.89" cy="478.25" r="3.4" fill="#00FF00"/><circle cx="176.40" cy="467.48" r="3.4" fill="#00FF00"/><circle cx="179.91" cy="457.40" r="3.4" fill="#00FF00"/><circle cx="183.42" cy="447.94" r="3.4" fill="#00FF00"/><circle cx="186.94" cy="439.06" r="3.4" fill="#00FF00"/><circle cx="190.45" cy="430.72" r="3.4" fill="#00FF00"/><circle cx="193.96" cy="423.36" r="3.4" fill="#00FF00"/><circle cx="197.47" cy="416.43" r="3.4" fill="#00FF00"/><circle cx="200.98" cy="411.91" r="3.4" fill="#00FF00"/><circle cx="204.50" cy="409.61" r="3.4" fill="#00FF00"/><circle cx="208.01" cy="407.45" r="3.4" fill="#00FF00"/><circle cx="211.52" cy="405.85" r="3.4" fill="#00FF00"/><circle cx="215.03" cy="408.58" r="3.4" fill="#00FF00"/><circle cx="218.54" cy="405.20" r="3.4" fill="#00FF00"/><circle cx="222.06" cy="400.66" r="3.4" fill="#00FF00"/><circle cx="225.57" cy="398.65" r="3.4" fill="#00FF00"/><circle cx="229.08" cy="396.95" r="3.4" fill="#00FF00"/><circle cx="232.59" cy="395.94" r="3.4" fill="#00FF00"/><circle cx="236.10" cy="395.02" r="3.4" fill="#00FF00"/><circle cx="239.62" cy="394.33" r="3.4" fill="#00FF00"/><circle cx="243.13" cy="394.15" r="3.4" fill="#00FF00"/><circle cx="246.64" cy="394.02" r="3.4" fill="#00FF00"/><circle cx="250.15" cy="395.42" r="3.4" fill="#00FF00"/><circle cx="253.66" cy="396.91" r="3.4" fill="#00FF00"/><circle cx="257.18" cy="399.41" r="3.4" fill="#00FF00"/><circle cx="260.69" cy="401.91" r="3.4" fill="#00FF00"/><circle cx="264.20" cy="404.01" r="3.4" fill="#00FF00"/><circle cx="267.71" cy="404.59" r="3.4" fill="#00FF00"/><circle cx="271.22" cy="405.42" r="3.4" fill="#00FF00"/><circle cx="274.74" cy="409.33" r="3.4" fill="#00FF00"/><circle cx="278.25" cy="412.60" r="3.4" fill="#00FF00"/><circle cx="281.76" cy="415.05" r="3.4" fill="#00FF00"/><circle cx="285.27" cy="418.27" r="3.4" fill="#00FF00"/><circle cx="288.78" cy="421.84" r="3.4" fill="#00FF00"/><circle cx="292.30" cy="427.19" r="3.4" fill="#00FF00"/><circle cx="295.81" cy="431.56" r="3.4" fill="#00FF00"/><circle cx="299.32" cy="435.75" r="3.4" fill="#00FF00"/><circle cx="302.83" cy="441.40" r="3.4" fill="#00FF00"/><circle cx="306.34" cy="446.45" r="3.4" fill="#00FF00"/>
<path fill="none" stroke="#0000FF" stroke-width="1" d="M46.46,574.30 L49.97,574.30 L53.48,574.30 L56.99,574.30 L60.50,574.30 L64.02,574.30 L67.53,574.30 L71.04,574.30 L74.55,574.30 L78.06,574.30 L81.58,574.30 L85.09,574.30 L88.60,574.30 L92.11,574.30 L95.62,574.30 L99.14,574.30 L102.65,574.30 L106.16,574.30 L109.67,574.30 L113.18,574.30 L116.70,574.30 L120.21,574.30 L123.72,574.30 L127.23,574.30 L130.74,574.30 L134.26,574.30 L137.77,574.30 L141.28,574.30 L144.79,574.30 L148.30,574.30 L151.82,574.30 L155.33,571.28 L158.84,560.45 L162.35,550.68 L165.86,538.59 L169.38,526.67 L172.89,515.78 L176.40,505.79 L179.91,495.98 L183.42,484.85 L186.94,476.30 L190.45,468.28 L193.96,460.94 L197.47,455.14 L200.98,449.95 L204.50,448.08 L208.01,450.35 L211.52,444.96 L215.03,439.75 L218.54,435.63 L222.06,432.85 L225.57,430.23 L229.08,428.61 L232.59,427.22 L236.10,425.91 L239.62,425.02 L243.13,425.05 L246.64,425.26 L250.15,426.80 L253.66,428.31 L257.18,428.55 L260.69,428.47 L264.20,428.63 L267.71,431.32 L271.22,433.91 L274.74,436.26 L278.25,438.54 L281.76,440.77 L285.27,444.54 L288.78,448.23 L292.30,452.31 L295.81,456.25 L299.32,460.05"/>
<path d="M46.46,570.30 l4.1,6.9 h-8.2 z" fill="#0000FF"/><path d="M49.97,570.30 l4.1,6.9 h-8.2 z" fill="#0000FF"/><path d="M53.48,570.30 l4.1,6.9 h-8.2 z" fill="#0000FF"/><path d="M56.99,570.30 l4.1,6.9 h-8.2 z" fill="#0000FF"/><path d="M60.50,570.30 l4.1,6.9 h-8.2 z" fill="#0000FF"/><path d="M64.02,570.30 l4.1,6.9 h-8.2 z" fill="#0000FF"/><path d="M67.53,570.30 l4.1,6.9 h-8.2 z" fill="#0000FF"/><path d="M71.04,570.30 l4.1,6.9 h-8.2 z" fill="#0000FF"/><path d="M74.55,570.30 l4.1,6.9 h-8.2 z" fill="#0000FF"/><path d="M78.06,570.30 l4.1,6.9 h-8.2 z" fill="#0000FF"/><path d="M81.58,570.30 l4.1,6.9 h-8.2 z" fill="#0000FF"/><path d="M85.09,570.30 l4.1,6.9 h-8.2 z" fill="#0000FF"/><path d="M88.60,570.30 l4.1,6.9 h-8.2 z" fill="#0000FF"/><path d="M92.11,570.30 l4.1,6.9 h-8.2 z" fill="#0000FF"/><path d="M95.62,570.30 l4.1,6.9 h-8.2 z" fill="#0000FF"/><path d="M99.14,570.30 l4.1,6.9 h-8.2 z" fill="#0000FF"/><path d="M102.65,570.30 l4.1,6.9 h-8.2 z" fill="#0000FF"/><path d="M106.16,570.30 l4.1,6.9 h-8.2 z" fill="#0000FF"/><path d="M109.67,570.30 l4.1,6.9 h-8.2 z" fill="#0000FF"/><path d="M113.18,570.30 l4.1,6.9 h-8.2 z" fill="#0000FF"/><path d="M116.70,570.30 l4.1,6.9 h-8.2 z" fill="#0000FF"/><path d="M120.21,570.30 l4.1,6.9 h-8.2 z" fill="#0000FF"/><path d="M123.72,570.30 l4.1,6.9 h-8.2 z" fill="#0000FF"/><path d="M127.23,570.30 l4.1,6.9 h-8.2 z" fill="#0000FF"/><path d="M130.74,570.30 l4.1,6.9 h-8.2 z" fill="#0000FF"/><path d="M134.26,570.30 l4.1,6.9 h-8.2 z" fill="#0000FF"/><path d="M137.77,570.30 l4.1,6.9 h-8.2 z" fill="#0000FF"/><path d="M141.28,570.30 l4.1,6.9 h-8.2 z" fill="#0000FF"/><path d="M144.79,570.30 l4.1,6.9 h-8.2 z" fill="#0000FF"/><path d="M148.30,570.30 l4.1,6.9 h-8.2 z" fill="#0000FF"/><path d="M151.82,570.30 l4.1,6.9 h-8.2 z" fill="#0000FF"/><path d="M155.33,567.28 l4.1,6.9 h-8.2 z" fill="#0000FF"/><path d="M158.84,556.45 l4.1,6.9 h-8.2 z" fill="#0000FF"/><path d="M162.35,546.68 l4.1,6.9 h-8.2 z" fill="#0000FF"/><path d="M165.86,534.59 l4.1,6.9 h-8.2 z" fill="#0000FF"/><path d="M169.38,522.67 l4.1,6.9 h-8.2 z" fill="#0000FF"/><path d="M172.89,511.78 l4.1,6.9 h-8.2 z" fill="#0000FF"/><path d="M176.40,501.79 l4.1,6.9 h-8.2 z" fill="#0000FF"/><path d="M179.91,491.98 l4.1,6.9 h-8.2 z" fill="#0000FF"/><path d="M183.42,480.85 l4.1,6.9 h-8.2 z" fill="#0000FF"/><path d="M186.94,472.30 l4.1,6.9 h-8.2 z" fill="#0000FF"/><path d="M190.45,464.28 l4.1,6.9 h-8.2 z" fill="#0000FF"/><path d="M193.96,456.94 l4.1,6.9 h-8.2 z" fill="#0000FF"/><path d="M197.47,451.14 l4.1,6.9 h-8.2 z" fill="#0000FF"/><path d="M200.98,445.95 l4.1,6.9 h-8.2 z" fill="#0000FF"/><path d="M204.50,444.08 l4.1,6.9 h-8.2 z" fill="#0000FF"/><path d="M208.01,446.35 l4.1,6.9 h-8.2 z" fill="#0000FF"/><path d="M211.52,440.96 l4.1,6.9 h-8.2 z" fill="#0000FF"/><path d="M215.03,435.75 l4.1,6.9 h-8.2 z" fill="#0000FF"/><path d="M218.54,431.63 l4.1,6.9 h-8.2 z" fill="#0000FF"/><path d="M222.06,428.85 l4.1,6.9 h-8.2 z" fill="#0000FF"/><path d="M225.57,426.23 l4.1,6.9 h-8.2 z" fill="#0000FF"/><path d="M229.08,424.61 l4.1,6.9 h-8.2 z" fill="#0000FF"/><path d="M232.59,423.22 l4.1,6.9 h-8.2 z" fill="#0000FF"/><path d="M236.10,421.91 l4.1,6.9 h-8.2 z" fill="#0000FF"/><path d="M239.62,421.02 l4.1,6.9 h-8.2 z" fill="#0000FF"/><path d="M243.13,421.05 l4.1,6.9 h-8.2 z" fill="#0000FF"/><path d="M246.64,421.26 l4.1,6.9 h-8.2 z" fill="#0000FF"/><path d="M250.15,422.80 l4.1,6.9 h-8.2 z" fill="#0000FF"/><path d="M253.66,424.31 l4.1,6.9 h-8.2 z" fill="#0000FF"/><path d="M257.18,424.55 l4.1,6.9 h-8.2 z" fill="#0000FF"/><path d="M260.69,424.47 l4.1,6.9 h-8.2 z" fill="#0000FF"/><path d="M264.20,424.63 l4.1,6.9 h-8.2 z" fill="#0000FF"/><path d="M267.71,427.32 l4.1,6.9 h-8.2 z" fill="#0000FF"/><path d="M271.22,429.91 l4.1,6.9 h-8.2 z" fill="#0000FF"/><path d="M274.74,432.26 l4.1,6.9 h-8.2 z" fill="#0000FF"/><path d="M278.25,434.54 l4.1,6.9 h-8.2 z" fill="#0000FF"/><path d="M281.76,436.77 l4.1,6.9 h-8.2 z" fill="#0000FF"/><path d="M285.27,440.54 l4.1,6.9 h-8.2 z" fill="#0000FF"/><path d="M288.78,444.23 l4.1,6.9 h-8.2 z" fill="#0000FF"/><path d="M292.30,448.31 l4.1,6.9 h-8.2 z" fill="#0000FF"/><path d="M295.81,452.25 l4.1,6.9 h-8.2 z" fill="#0000FF"/><path d="M299.32,456.05 l4.1,6.9 h-8.2 z" fill="#0000FF"/>
<path fill="none" stroke="#00FFFF" stroke-width="1" d="M46.46,574.30 L49.97,574.30 L53.48,574.30 L56.99,574.30 L60.50,574.30 L64.02,574.30 L67.53,574.30 L71.04,574.30 L74.55,574.30 L78.06,574.30 L81.58,574.30 L85.09,574.30 L88.60,574.30 L92.11,574.30 L95.62,574.30 L99.14,574.30 L102.65,574.30 L106.16,574.30 L109.67,574.30 L113.18,574.30 L116.70,574.30 L120.21,574.30 L123.72,574.30 L127.23,574.30 L130.74,574.30 L134.26,574.30 L137.77,574.30 L141.28,574.30 L144.79,574.30 L148.30,574.30 L151.82,574.30 L155.33,574.30 L158.84,574.30 L162.35,571.82 L165.86,562.33 L169.38,554.16 L172.89,545.49 L176.40,536.56 L179.91,528.20 L183.42,520.27 L186.94,512.79 L190.45,505.76 L193.96,498.44 L197.47,492.23 L200.98,493.05 L204.50,489.17 L208.01,483.57 L211.52,478.26 L215.03,473.24 L218.54,469.81 L222.06,466.87 L225.57,464.09 L229.08,460.86 L232.59,457.72 L236.10,454.73 L239.62,452.90 L243.13,453.80 L246.64,454.67 L250.15,454.82 L253.66,453.57 L257.18,452.43 L260.69,454.35 L264.20,456.20 L267.71,457.82 L271.22,458.96 L274.74,460.08 L278.25,461.61 L281.76,465.02 L285.27,468.30 L288.78,472.69 L292.30,477.15 L295.81,481.13"/>
<path d="M46.46,578.20 l4.1,-6.7 h-8.2 z" fill="#00FFFF"/><path d="M49.97,578.20 l4.1,-6.7 h-8.2 z" fill="#00FFFF"/><path d="M53.48,578.20 l4.1,-6.7 h-8.2 z" fill="#00FFFF"/><path d="M56.99,578.20 l4.1,-6.7 h-8.2 z" fill="#00FFFF"/><path d="M60.50,578.20 l4.1,-6.7 h-8.2 z" fill="#00FFFF"/><path d="M64.02,578.20 l4.1,-6.7 h-8.2 z" fill="#00FFFF"/><path d="M67.53,578.20 l4.1,-6.7 h-8.2 z" fill="#00FFFF"/><path d="M71.04,578.20 l4.1,-6.7 h-8.2 z" fill="#00FFFF"/><path d="M74.55,578.20 l4.1,-6.7 h-8.2 z" fill="#00FFFF"/><path d="M78.06,578.20 l4.1,-6.7 h-8.2 z" fill="#00FFFF"/><path d="M81.58,578.20 l4.1,-6.7 h-8.2 z" fill="#00FFFF"/><path d="M85.09,578.20 l4.1,-6.7 h-8.2 z" fill="#00FFFF"/><path d="M88.60,578.20 l4.1,-6.7 h-8.2 z" fill="#00FFFF"/><path d="M92.11,578.20 l4.1,-6.7 h-8.2 z" fill="#00FFFF"/><path d="M95.62,578.20 l4.1,-6.7 h-8.2 z" fill="#00FFFF"/><path d="M99.14,578.20 l4.1,-6.7 h-8.2 z" fill="#00FFFF"/><path d="M102.65,578.20 l4.1,-6.7 h-8.2 z" fill="#00FFFF"/><path d="M106.16,578.20 l4.1,-6.7 h-8.2 z" fill="#00FFFF"/><path d="M109.67,578.20 l4.1,-6.7 h-8.2 z" fill="#00FFFF"/><path d="M113.18,578.20 l4.1,-6.7 h-8.2 z" fill="#00FFFF"/><path d="M116.70,578.20 l4.1,-6.7 h-8.2 z" fill="#00FFFF"/><path d="M120.21,578.20 l4.1,-6.7 h-8.2 z" fill="#00FFFF"/><path d="M123.72,578.20 l4.1,-6.7 h-8.2 z" fill="#00FFFF"/><path d="M127.23,578.20 l4.1,-6.7 h-8.2 z" fill="#00FFFF"/><path d="M130.74,578.20 l4.1,-6.7 h-8.2 z" fill="#00FFFF"/><path d="M134.26,578.20 l4.1,-6.7 h-8.2 z" fill="#00FFFF"/><path d="M137.77,578.20 l4.1,-6.7 h-8.2 z" fill="#00FFFF"/><path d="M141.28,578.20 l4.1,-6.7 h-8.2 z" fill="#00FFFF"/><path d="M144.79,578.20 l4.1,-6.7 h-8.2 z" fill="#00FFFF"/><path d="M148.30,578.20 l4.1,-6.7 h-8.2 z" fill="#00FFFF"/><path d="M151.82,578.20 l4.1,-6.7 h-8.2 z" fill="#00FFFF"/><path d="M155.33,578.20 l4.1,-6.7 h-8.2 z" fill="#00FFFF"/><path d="M158.84,578.20 l4.1,-6.7 h-8.2 z" fill="#00FFFF"/><path d="M162.35,575.72 l4.1,-6.7 h-8.2 z" fill="#00FFFF"/><path d="M165.86,566.23 l4.1,-6.7 h-8.2 z" fill="#00FFFF"/><path d="M169.38,558.06 l4.1,-6.7 h-8.2 z" fill="#00FFFF"/><path d="M172.89,549.39 l4.1,-6.7 h-8.2 z" fill="#00FFFF"/><path d="M176.40,540.46 l4.1,-6.7 h-8.2 z" fill="#00FFFF"/><path d="M179.91,532.10 l4.1,-6.7 h-8.2 z" fill="#00FFFF"/><path d="M183.42,524.17 l4.1,-6.7 h-8.2 z" fill="#00FFFF"/><path d="M186.94,516.69 l4.1,-6.7 h-8.2 z" fill="#00FFFF"/><path d="M190.45,509.66 l4.1,-6.7 h-8.2 z" fill="#00FFFF"/><path d="M193.96,502.34 l4.1,-6.7 h-8.2 z" fill="#00FFFF"/><path d="M197.47,496.13 l4.1,-6.7 h-8.2 z" fill="#00FFFF"/><path d="M200.98,496.95 l4.1,-6.7 h-8.2 z" fill="#00FFFF"/><path d="M204.50,493.07 l4.1,-6.7 h-8.2 z" fill="#00FFFF"/><path d="M208.01,487.47 l4.1,-6.7 h-8.2 z" fill="#00FFFF"/><path d="M211.52,482.16 l4.1,-6.7 h-8.2 z" fill="#00FFFF"/><path d="M215.03,477.14 l4.1,-6.7 h-8.2 z" fill="#00FFFF"/><path d="M218.54,473.71 l4.1,-6.7 h-8.2 z" fill="#00FFFF"/><path d="M222.06,470.77 l4.1,-6.7 h-8.2 z" fill="#00FFFF"/><path d="M225.57,467.99 l4.1,-6.7 h-8.2 z" fill="#00FFFF"/><path d="M229.08,464.76 l4.1,-6.7 h-8.2 z" fill="#00FFFF"/><path d="M232.59,461.62 l4.1,-6.7 h-8.2 z" fill="#00FFFF"/><path d="M236.10,458.63 l4.1,-6.7 h-8.2 z" fill="#00FFFF"/><path d="M239.62,456.80 l4.1,-6.7 h-8.2 z" fill="#00FFFF"/><path d="M243.13,457.70 l4.1,-6.7 h-8.2 z" fill="#00FFFF"/><path d="M246.64,458.57 l4.1,-6.7 h-8.2 z" fill="#00FFFF"/><path d="M250.15,458.72 l4.1,-6.7 h-8.2 z" fill="#00FFFF"/><path d="M253.66,457.47 l4.1,-6.7 h-8.2 z" fill="#00FFFF"/><path d="M257.18,456.33 l4.1,-6.7 h-8.2 z" fill="#00FFFF"/><path d="M260.69,458.25 l4.1,-6.7 h-8.2 z" fill="#00FFFF"/><path d="M264.20,460.10 l4.1,-6.7 h-8.2 z" fill="#00FFFF"/><path d="M267.71,461.72 l4.1,-6.7 h-8.2 z" fill="#00FFFF"/><path d="M271.22,462.86 l4.1,-6.7 h-8.2 z" fill="#00FFFF"/><path d="M274.74,463.98 l4.1,-6.7 h-8.2 z" fill="#00FFFF"/><path d="M278.25,465.51 l4.1,-6.7 h-8.2 z" fill="#00FFFF"/><path d="M281.76,468.92 l4.1,-6.7 h-8.2 z" fill="#00FFFF"/><path d="M285.27,472.20 l4.1,-6.7 h-8.2 z" fill="#00FFFF"/><path d="M288.78,476.59 l4.1,-6.7 h-8.2 z" fill="#00FFFF"/><path d="M292.30,481.05 l4.1,-6.7 h-8.2 z" fill="#00FFFF"/><path d="M295.81,485.03 l4.1,-6.7 h-8.2 z" fill="#00FFFF"/>
<path fill="none" stroke="#FF00FF" stroke-width="1" d="M46.46,574.30 L49.97,574.30 L53.48,574.30 L56.99,574.30 L60.50,574.30 L64.02,574.30 L67.53,574.30 L71.04,574.30 L74.55,574.30 L78.06,574.30 L81.58,574.30 L85.09,574.30 L88.60,574.30 L92.11,574.30 L95.62,574.30 L99.14,574.30 L102.65,574.30 L106.16,574.30 L109.67,574.30 L113.18,574.30 L116.70,574.30 L120.21,574.30 L123.72,574.30 L127.23,574.30 L130.74,574.30 L134.26,574.30 L137.77,574.30 L141.28,574.30 L144.79,574.30 L148.30,574.30 L151.82,574.30 L155.33,574.30 L158.84,574.30 L162.35,574.30 L165.86,574.30 L169.38,572.72 L172.89,566.74 L176.40,560.33 L179.91,555.03 L183.42,550.07 L186.94,544.30 L190.45,538.87 L193.96,536.42 L197.47,531.15 L200.98,525.44 L204.50,520.04 L208.01,514.93 L211.52,508.55 L215.03,502.17 L218.54,496.12 L222.06,492.07 L225.57,488.25 L229.08,484.62 L232.59,481.18 L236.10,480.35 L239.62,479.94 L243.13,479.55 L246.64,479.20 L250.15,478.82 L253.66,478.60 L257.18,479.48 L260.69,480.34 L264.20,481.18 L267.71,482.00 L271.22,483.08 L274.74,485.99 L278.25,488.79 L281.76,492.01 L285.27,495.85 L288.78,499.39"/>
<path d="M46.46,570.00 l4.3,4.3 l-4.3,4.3 l-4.3,-4.3 z" fill="#FF00FF"/><path d="M49.97,570.00 l4.3,4.3 l-4.3,4.3 l-4.3,-4.3 z" fill="#FF00FF"/><path d="M53.48,570.00 l4.3,4.3 l-4.3,4.3 l-4.3,-4.3 z" fill="#FF00FF"/><path d="M56.99,570.00 l4.3,4.3 l-4.3,4.3 l-4.3,-4.3 z" fill="#FF00FF"/><path d="M60.50,570.00 l4.3,4.3 l-4.3,4.3 l-4.3,-4.3 z" fill="#FF00FF"/><path d="M64.02,570.00 l4.3,4.3 l-4.3,4.3 l-4.3,-4.3 z" fill="#FF00FF"/><path d="M67.53,570.00 l4.3,4.3 l-4.3,4.3 l-4.3,-4.3 z" fill="#FF00FF"/><path d="M71.04,570.00 l4.3,4.3 l-4.3,4.3 l-4.3,-4.3 z" fill="#FF00FF"/><path d="M74.55,570.00 l4.3,4.3 l-4.3,4.3 l-4.3,-4.3 z" fill="#FF00FF"/><path d="M78.06,570.00 l4.3,4.3 l-4.3,4.3 l-4.3,-4.3 z" fill="#FF00FF"/><path d="M81.58,570.00 l4.3,4.3 l-4.3,4.3 l-4.3,-4.3 z" fill="#FF00FF"/><path d="M85.09,570.00 l4.3,4.3 l-4.3,4.3 l-4.3,-4.3 z" fill="#FF00FF"/><path d="M88.60,570.00 l4.3,4.3 l-4.3,4.3 l-4.3,-4.3 z" fill="#FF00FF"/><path d="M92.11,570.00 l4.3,4.3 l-4.3,4.3 l-4.3,-4.3 z" fill="#FF00FF"/><path d="M95.62,570.00 l4.3,4.3 l-4.3,4.3 l-4.3,-4.3 z" fill="#FF00FF"/><path d="M99.14,570.00 l4.3,4.3 l-4.3,4.3 l-4.3,-4.3 z" fill="#FF00FF"/><path d="M102.65,570.00 l4.3,4.3 l-4.3,4.3 l-4.3,-4.3 z" fill="#FF00FF"/><path d="M106.16,570.00 l4.3,4.3 l-4.3,4.3 l-4.3,-4.3 z" fill="#FF00FF"/><path d="M109.67,570.00 l4.3,4.3 l-4.3,4.3 l-4.3,-4.3 z" fill="#FF00FF"/><path d="M113.18,570.00 l4.3,4.3 l-4.3,4.3 l-4.3,-4.3 z" fill="#FF00FF"/><path d="M116.70,570.00 l4.3,4.3 l-4.3,4.3 l-4.3,-4.3 z" fill="#FF00FF"/><path d="M120.21,570.00 l4.3,4.3 l-4.3,4.3 l-4.3,-4.3 z" fill="#FF00FF"/><path d="M123.72,570.00 l4.3,4.3 l-4.3,4.3 l-4.3,-4.3 z" fill="#FF00FF"/><path d="M127.23,570.00 l4.3,4.3 l-4.3,4.3 l-4.3,-4.3 z" fill="#FF00FF"/><path d="M130.74,570.00 l4.3,4.3 l-4.3,4.3 l-4.3,-4.3 z" fill="#FF00FF"/><path d="M134.26,570.00 l4.3,4.3 l-4.3,4.3 l-4.3,-4.3 z" fill="#FF00FF"/><path d="M137.77,570.00 l4.3,4.3 l-4.3,4.3 l-4.3,-4.3 z" fill="#FF00FF"/><path d="M141.28,570.00 l4.3,4.3 l-4.3,4.3 l-4.3,-4.3 z" fill="#FF00FF"/><path d="M144.79,570.00 l4.3,4.3 l-4.3,4.3 l-4.3,-4.3 z" fill="#FF00FF"/><path d="M148.30,570.00 l4.3,4.3 l-4.3,4.3 l-4.3,-4.3 z" fill="#FF00FF"/><path d="M151.82,570.00 l4.3,4.3 l-4.3,4.3 l-4.3,-4.3 z" fill="#FF00FF"/><path d="M155.33,570.00 l4.3,4.3 l-4.3,4.3 l-4.3,-4.3 z" fill="#FF00FF"/><path d="M158.84,570.00 l4.3,4.3 l-4.3,4.3 l-4.3,-4.3 z" fill="#FF00FF"/><path d="M162.35,570.00 l4.3,4.3 l-4.3,4.3 l-4.3,-4.3 z" fill="#FF00FF"/><path d="M165.86,570.00 l4.3,4.3 l-4.3,4.3 l-4.3,-4.3 z" fill="#FF00FF"/><path d="M169.38,568.42 l4.3,4.3 l-4.3,4.3 l-4.3,-4.3 z" fill="#FF00FF"/><path d="M172.89,562.44 l4.3,4.3 l-4.3,4.3 l-4.3,-4.3 z" fill="#FF00FF"/><path d="M176.40,556.03 l4.3,4.3 l-4.3,4.3 l-4.3,-4.3 z" fill="#FF00FF"/><path d="M179.91,550.73 l4.3,4.3 l-4.3,4.3 l-4.3,-4.3 z" fill="#FF00FF"/><path d="M183.42,545.77 l4.3,4.3 l-4.3,4.3 l-4.3,-4.3 z" fill="#FF00FF"/><path d="M186.94,540.00 l4.3,4.3 l-4.3,4.3 l-4.3,-4.3 z" fill="#FF00FF"/><path d="M190.45,534.57 l4.3,4.3 l-4.3,4.3 l-4.3,-4.3 z" fill="#FF00FF"/><path d="M193.96,532.12 l4.3,4.3 l-4.3,4.3 l-4.3,-4.3 z" fill="#FF00FF"/><path d="M197.47,526.85 l4.3,4.3 l-4.3,4.3 l-4.3,-4.3 z" fill="#FF00FF"/><path d="M200.98,521.14 l4.3,4.3 l-4.3,4.3 l-4.3,-4.3 z" fill="#FF00FF"/><path d="M204.50,515.74 l4.3,4.3 l-4.3,4.3 l-4.3,-4.3 z" fill="#FF00FF"/><path d="M208.01,510.63 l4.3,4.3 l-4.3,4.3 l-4.3,-4.3 z" fill="#FF00FF"/><path d="M211.52,504.25 l4.3,4.3 l-4.3,4.3 l-4.3,-4.3 z" fill="#FF00FF"/><path d="M215.03,497.87 l4.3,4.3 l-4.3,4.3 l-4.3,-4.3 z" fill="#FF00FF"/><path d="M218.54,491.82 l4.3,4.3 l-4.3,4.3 l-4.3,-4.3 z" fill="#FF00FF"/><path d="M222.06,487.77 l4.3,4.3 l-4.3,4.3 l-4.3,-4.3 z" fill="#FF00FF"/><path d="M225.57,483.95 l4.3,4.3 l-4.3,4.3 l-4.3,-4.3 z" fill="#FF00FF"/><path d="M229.08,480.32 l4.3,4.3 l-4.3,4.3 l-4.3,-4.3 z" fill="#FF00FF"/><path d="M232.59,476.88 l4.3,4.3 l-4.3,4.3 l-4.3,-4.3 z" fill="#FF00FF"/><path d="M236.10,476.05 l4.3,4.3 l-4.3,4.3 l-4.3,-4.3 z" fill="#FF00FF"/><path d="M239.62,475.64 l4.3,4.3 l-4.3,4.3 l-4.3,-4.3 z" fill="#FF00FF"/><path d="M243.13,475.25 l4.3,4.3 l-4.3,4.3 l-4.3,-4.3 z" fill="#FF00FF"/><path d="M246.64,474.90 l4.3,4.3 l-4.3,4.3 l-4.3,-4.3 z" fill="#FF00FF"/><path d="M250.15,474.52 l4.3,4.3 l-4.3,4.3 l-4.3,-4.3 z" fill="#FF00FF"/><path d="M253.66,474.30 l4.3,4.3 l-4.3,4.3 l-4.3,-4.3 z" fill="#FF00FF"/><path d="M257.18,475.18 l4.3,4.3 l-4.3,4.3 l-4.3,-4.3 z" fill="#FF00FF"/><path d="M260.69,476.04 l4.3,4.3 l-4.3,4.3 l-4.3,-4.3 z" fill="#FF00FF"/><path d="M264.20,476.88 l4.3,4.3 l-4.3,4.3 l-4.3,-4.3 z" fill="#FF00FF"/><path d="M267.71,477.70 l4.3,4.3 l-4.3,4.3 l-4.3,-4.3 z" fill="#FF00FF"/><path d="M271.22,478.78 l4.3,4.3 l-4.3,4.3 l-4.3,-4.3 z" fill="#FF00FF"/><path d="M274.74,481.69 l4.3,4.3 l-4.3,4.3 l-4.3,-4.3 z" fill="#FF00FF"/><path d="M278.25,484.49 l4.3,4.3 l-4.3,4.3 l-4.3,-4.3 z" fill="#FF00FF"/><path d="M281.76,487.71 l4.3,4.3 l-4.3,4.3 l-4.3,-4.3 z" fill="#FF00FF"/><path d="M285.27,491.55 l4.3,4.3 l-4.3,4.3 l-4.3,-4.3 z" fill="#FF00FF"/><path d="M288.78,495.09 l4.3,4.3 l-4.3,4.3 l-4.3,-4.3 z" fill="#FF00FF"/>
<path fill="none" stroke="#FFFF00" stroke-width="1" d="M46.46,574.30 L49.97,574.30 L53.48,574.30 L56.99,574.30 L60.50,574.30 L64.02,574.30 L67.53,574.30 L71.04,574.30 L74.55,574.30 L78.06,574.30 L81.58,574.30 L85.09,574.30 L88.60,574.30 L92.11,574.30 L95.62,574.30 L99.14,574.30 L102.65,574.30 L106.16,574.30 L109.67,574.30 L113.18,574.30 L116.70,574.30 L120.21,574.30 L123.72,574.30 L127.23,574.30 L130.74,574.30 L134.26,574.30 L137.77,574.30 L141.28,574.30 L144.79,574.30 L148.30,574.30 L151.82,574.30 L155.33,574.30 L158.84,574.30 L162.35,574.30 L165.86,574.30 L169.38,574.30 L172.89,574.30 L176.40,574.30 L179.91,574.30 L183.42,573.46 L186.94,570.59 L190.45,564.56 L193.96,558.33 L197.47,551.63 L200.98,545.30 L204.50,539.80 L208.01,535.57 L211.52,531.56 L215.03,527.91 L218.54,524.58 L222.06,521.43 L225.57,518.31 L229.08,515.25 L232.59,512.34 L236.10,510.09 L239.62,508.03 L243.13,506.46 L246.64,505.97 L250.15,505.51 L253.66,505.09 L257.18,504.90 L260.69,505.02 L264.20,505.14 L267.71,506.66 L271.22,508.79 L274.74,511.81 L278.25,515.06 L281.76,518.17"/>
<path d="M42.56,574.30 l7,-4.1 v8.2 z" fill="#FFFF00"/><path d="M46.07,574.30 l7,-4.1 v8.2 z" fill="#FFFF00"/><path d="M49.58,574.30 l7,-4.1 v8.2 z" fill="#FFFF00"/><path d="M53.09,574.30 l7,-4.1 v8.2 z" fill="#FFFF00"/><path d="M56.60,574.30 l7,-4.1 v8.2 z" fill="#FFFF00"/><path d="M60.12,574.30 l7,-4.1 v8.2 z" fill="#FFFF00"/><path d="M63.63,574.30 l7,-4.1 v8.2 z" fill="#FFFF00"/><path d="M67.14,574.30 l7,-4.1 v8.2 z" fill="#FFFF00"/><path d="M70.65,574.30 l7,-4.1 v8.2 z" fill="#FFFF00"/><path d="M74.16,574.30 l7,-4.1 v8.2 z" fill="#FFFF00"/><path d="M77.68,574.30 l7,-4.1 v8.2 z" fill="#FFFF00"/><path d="M81.19,574.30 l7,-4.1 v8.2 z" fill="#FFFF00"/><path d="M84.70,574.30 l7,-4.1 v8.2 z" fill="#FFFF00"/><path d="M88.21,574.30 l7,-4.1 v8.2 z" fill="#FFFF00"/><path d="M91.72,574.30 l7,-4.1 v8.2 z" fill="#FFFF00"/><path d="M95.24,574.30 l7,-4.1 v8.2 z" fill="#FFFF00"/><path d="M98.75,574.30 l7,-4.1 v8.2 z" fill="#FFFF00"/><path d="M102.26,574.30 l7,-4.1 v8.2 z" fill="#FFFF00"/><path d="M105.77,574.30 l7,-4.1 v8.2 z" fill="#FFFF00"/><path d="M109.28,574.30 l7,-4.1 v8.2 z" fill="#FFFF00"/><path d="M112.80,574.30 l7,-4.1 v8.2 z" fill="#FFFF00"/><path d="M116.31,574.30 l7,-4.1 v8.2 z" fill="#FFFF00"/><path d="M119.82,574.30 l7,-4.1 v8.2 z" fill="#FFFF00"/><path d="M123.33,574.30 l7,-4.1 v8.2 z" fill="#FFFF00"/><path d="M126.84,574.30 l7,-4.1 v8.2 z" fill="#FFFF00"/><path d="M130.36,574.30 l7,-4.1 v8.2 z" fill="#FFFF00"/><path d="M133.87,574.30 l7,-4.1 v8.2 z" fill="#FFFF00"/><path d="M137.38,574.30 l7,-4.1 v8.2 z" fill="#FFFF00"/><path d="M140.89,574.30 l7,-4.1 v8.2 z" fill="#FFFF00"/><path d="M144.40,574.30 l7,-4.1 v8.2 z" fill="#FFFF00"/><path d="M147.92,574.30 l7,-4.1 v8.2 z" fill="#FFFF00"/><path d="M151.43,574.30 l7,-4.1 v8.2 z" fill="#FFFF00"/><path d="M154.94,574.30 l7,-4.1 v8.2 z" fill="#FFFF00"/><path d="M158.45,574.30 l7,-4.1 v8.2 z" fill="#FFFF00"/><path d="M161.96,574.30 l7,-4.1 v8.2 z" fill="#FFFF00"/><path d="M165.48,574.30 l7,-4.1 v8.2 z" fill="#FFFF00"/><path d="M168.99,574.30 l7,-4.1 v8.2 z" fill="#FFFF00"/><path d="M172.50,574.30 l7,-4.1 v8.2 z" fill="#FFFF00"/><path d="M176.01,574.30 l7,-4.1 v8.2 z" fill="#FFFF00"/><path d="M179.52,573.46 l7,-4.1 v8.2 z" fill="#FFFF00"/><path d="M183.04,570.59 l7,-4.1 v8.2 z" fill="#FFFF00"/><path d="M186.55,564.56 l7,-4.1 v8.2 z" fill="#FFFF00"/><path d="M190.06,558.33 l7,-4.1 v8.2 z" fill="#FFFF00"/><path d="M193.57,551.63 l7,-4.1 v8.2 z" fill="#FFFF00"/><path d="M197.08,545.30 l7,-4.1 v8.2 z" fill="#FFFF00"/><path d="M200.60,539.80 l7,-4.1 v8.2 z" fill="#FFFF00"/><path d="M204.11,535.57 l7,-4.1 v8.2 z" fill="#FFFF00"/><path d="M207.62,531.56 l7,-4.1 v8.2 z" fill="#FFFF00"/><path d="M211.13,527.91 l7,-4.1 v8.2 z" fill="#FFFF00"/><path d="M214.64,524.58 l7,-4.1 v8.2 z" fill="#FFFF00"/><path d="M218.16,521.43 l7,-4.1 v8.2 z" fill="#FFFF00"/><path d="M221.67,518.31 l7,-4.1 v8.2 z" fill="#FFFF00"/><path d="M225.18,515.25 l7,-4.1 v8.2 z" fill="#FFFF00"/><path d="M228.69,512.34 l7,-4.1 v8.2 z" fill="#FFFF00"/><path d="M232.20,510.09 l7,-4.1 v8.2 z" fill="#FFFF00"/><path d="M235.72,508.03 l7,-4.1 v8.2 z" fill="#FFFF00"/><path d="M239.23,506.46 l7,-4.1 v8.2 z" fill="#FFFF00"/><path d="M242.74,505.97 l7,-4.1 v8.2 z" fill="#FFFF00"/><path d="M246.25,505.51 l7,-4.1 v8.2 z" fill="#FFFF00"/><path d="M249.76,505.09 l7,-4.1 v8.2 z" fill="#FFFF00"/><path d="M253.28,504.90 l7,-4.1 v8.2 z" fill="#FFFF00"/><path d="M256.79,505.02 l7,-4.1 v8.2 z" fill="#FFFF00"/><path d="M260.30,505.14 l7,-4.1 v8.2 z" fill="#FFFF00"/><path d="M263.81,506.66 l7,-4.1 v8.2 z" fill="#FFFF00"/><path d="M267.32,508.79 l7,-4.1 v8.2 z" fill="#FFFF00"/><path d="M270.84,511.81 l7,-4.1 v8.2 z" fill="#FFFF00"/><path d="M274.35,515.06 l7,-4.1 v8.2 z" fill="#FFFF00"/><path d="M277.86,518.17 l7,-4.1 v8.2 z" fill="#FFFF00"/>
<path fill="none" stroke="#808000" stroke-width="1" d="M46.46,574.30 L49.97,574.30 L53.48,574.30 L56.99,574.30 L60.50,574.30 L64.02,574.30 L67.53,574.30 L71.04,574.30 L74.55,574.30 L78.06,574.30 L81.58,574.30 L85.09,574.30 L88.60,574.30 L92.11,574.30 L95.62,574.30 L99.14,574.30 L102.65,574.30 L106.16,574.30 L109.67,574.30 L113.18,574.30 L116.70,574.30 L120.21,574.30 L123.72,574.30 L127.23,574.30 L130.74,574.30 L134.26,574.30 L137.77,574.30 L141.28,574.30 L144.79,574.30 L148.30,574.30 L151.82,574.30 L155.33,574.30 L158.84,574.30 L162.35,574.30 L165.86,574.30 L169.38,574.30 L172.89,574.30 L176.40,574.30 L179.91,574.30 L183.42,574.30 L186.94,574.30 L190.45,574.30 L193.96,573.13 L197.47,571.12 L200.98,568.83 L204.50,565.22 L208.01,561.65 L211.52,558.17 L215.03,553.74 L218.54,549.49 L222.06,545.06 L225.57,541.36 L229.08,538.51 L232.59,536.63 L236.10,534.85 L239.62,533.11 L243.13,531.21 L246.64,529.39 L250.15,528.23 L253.66,528.26 L257.18,528.41 L260.69,530.03 L264.20,532.15 L267.71,534.96 L271.22,534.19"/>
<path d="M50.36,574.30 l-7.2,-4.2 v8.4 z" fill="#808000"/><path d="M53.87,574.30 l-7.2,-4.2 v8.4 z" fill="#808000"/><path d="M57.38,574.30 l-7.2,-4.2 v8.4 z" fill="#808000"/><path d="M60.89,574.30 l-7.2,-4.2 v8.4 z" fill="#808000"/><path d="M64.40,574.30 l-7.2,-4.2 v8.4 z" fill="#808000"/><path d="M67.92,574.30 l-7.2,-4.2 v8.4 z" fill="#808000"/><path d="M71.43,574.30 l-7.2,-4.2 v8.4 z" fill="#808000"/><path d="M74.94,574.30 l-7.2,-4.2 v8.4 z" fill="#808000"/><path d="M78.45,574.30 l-7.2,-4.2 v8.4 z" fill="#808000"/><path d="M81.96,574.30 l-7.2,-4.2 v8.4 z" fill="#808000"/><path d="M85.48,574.30 l-7.2,-4.2 v8.4 z" fill="#808000"/><path d="M88.99,574.30 l-7.2,-4.2 v8.4 z" fill="#808000"/><path d="M92.50,574.30 l-7.2,-4.2 v8.4 z" fill="#808000"/><path d="M96.01,574.30 l-7.2,-4.2 v8.4 z" fill="#808000"/><path d="M99.52,574.30 l-7.2,-4.2 v8.4 z" fill="#808000"/><path d="M103.04,574.30 l-7.2,-4.2 v8.4 z" fill="#808000"/><path d="M106.55,574.30 l-7.2,-4.2 v8.4 z" fill="#808000"/><path d="M110.06,574.30 l-7.2,-4.2 v8.4 z" fill="#808000"/><path d="M113.57,574.30 l-7.2,-4.2 v8.4 z" fill="#808000"/><path d="M117.08,574.30 l-7.2,-4.2 v8.4 z" fill="#808000"/><path d="M120.60,574.30 l-7.2,-4.2 v8.4 z" fill="#808000"/><path d="M124.11,574.30 l-7.2,-4.2 v8.4 z" fill="#808000"/><path d="M127.62,574.30 l-7.2,-4.2 v8.4 z" fill="#808000"/><path d="M131.13,574.30 l-7.2,-4.2 v8.4 z" fill="#808000"/><path d="M134.64,574.30 l-7.2,-4.2 v8.4 z" fill="#808000"/><path d="M138.16,574.30 l-7.2,-4.2 v8.4 z" fill="#808000"/><path d="M141.67,574.30 l-7.2,-4.2 v8.4 z" fill="#808000"/><path d="M145.18,574.30 l-7.2,-4.2 v8.4 z" fill="#808000"/><path d="M148.69,574.30 l-7.2,-4.2 v8.4 z" fill="#808000"/><path d="M152.20,574.30 l-7.2,-4.2 v8.4 z" fill="#808000"/><path d="M155.72,574.30 l-7.2,-4.2 v8.4 z" fill="#808000"/><path d="M159.23,574.30 l-7.2,-4.2 v8.4 z" fill="#808000"/><path d="M162.74,574.30 l-7.2,-4.2 v8.4 z" fill="#808000"/><path d="M166.25,574.30 l-7.2,-4.2 v8.4 z" fill="#808000"/><path d="M169.76,574.30 l-7.2,-4.2 v8.4 z" fill="#808000"/><path d="M173.28,574.30 l-7.2,-4.2 v8.4 z" fill="#808000"/><path d="M176.79,574.30 l-7.2,-4.2 v8.4 z" fill="#808000"/><path d="M180.30,574.30 l-7.2,-4.2 v8.4 z" fill="#808000"/><path d="M183.81,574.30 l-7.2,-4.2 v8.4 z" fill="#808000"/><path d="M187.32,574.30 l-7.2,-4.2 v8.4 z" fill="#808000"/><path d="M190.84,574.30 l-7.2,-4.2 v8.4 z" fill="#808000"/><path d="M194.35,574.30 l-7.2,-4.2 v8.4 z" fill="#808000"/><path d="M197.86,573.13 l-7.2,-4.2 v8.4 z" fill="#808000"/><path d="M201.37,571.12 l-7.2,-4.2 v8.4 z" fill="#808000"/><path d="M204.88,568.83 l-7.2,-4.2 v8.4 z" fill="#808000"/><path d="M208.40,565.22 l-7.2,-4.2 v8.4 z" fill="#808000"/><path d="M211.91,561.65 l-7.2,-4.2 v8.4 z" fill="#808000"/><path d="M215.42,558.17 l-7.2,-4.2 v8.4 z" fill="#808000"/><path d="M218.93,553.74 l-7.2,-4.2 v8.4 z" fill="#808000"/><path d="M222.44,549.49 l-7.2,-4.2 v8.4 z" fill="#808000"/><path d="M225.96,545.06 l-7.2,-4.2 v8.4 z" fill="#808000"/><path d="M229.47,541.36 l-7.2,-4.2 v8.4 z" fill="#808000"/><path d="M232.98,538.51 l-7.2,-4.2 v8.4 z" fill="#808000"/><path d="M236.49,536.63 l-7.2,-4.2 v8.4 z" fill="#808000"/><path d="M240.00,534.85 l-7.2,-4.2 v8.4 z" fill="#808000"/><path d="M243.52,533.11 l-7.2,-4.2 v8.4 z" fill="#808000"/><path d="M247.03,531.21 l-7.2,-4.2 v8.4 z" fill="#808000"/><path d="M250.54,529.39 l-7.2,-4.2 v8.4 z" fill="#808000"/><path d="M254.05,528.23 l-7.2,-4.2 v8.4 z" fill="#808000"/><path d="M257.56,528.26 l-7.2,-4.2 v8.4 z" fill="#808000"/><path d="M261.08,528.41 l-7.2,-4.2 v8.4 z" fill="#808000"/><path d="M264.59,530.03 l-7.2,-4.2 v8.4 z" fill="#808000"/><path d="M268.10,532.15 l-7.2,-4.2 v8.4 z" fill="#808000"/><path d="M271.61,534.96 l-7.2,-4.2 v8.4 z" fill="#808000"/><path d="M275.12,534.19 l-7.2,-4.2 v8.4 z" fill="#808000"/>
<path fill="none" stroke="#000080" stroke-width="1" d="M46.46,574.30 L49.97,574.30 L53.48,574.30 L56.99,574.30 L60.50,574.30 L64.02,574.30 L67.53,574.30 L71.04,574.30 L74.55,574.30 L78.06,574.30 L81.58,574.30 L85.09,574.30 L88.60,574.30 L92.11,574.30 L95.62,574.30 L99.14,574.30 L102.65,574.30 L106.16,574.30 L109.67,574.30 L113.18,574.30 L116.70,574.30 L120.21,574.30 L123.72,574.30 L127.23,574.30 L130.74,574.30 L134.26,574.30 L137.77,574.30 L141.28,574.30 L144.79,574.30 L148.30,574.30 L151.82,574.30 L155.33,574.30 L158.84,574.30 L162.35,574.30 L165.86,574.30 L169.38,574.30 L172.89,574.30 L176.40,574.30 L179.91,574.30 L183.42,574.30 L186.94,574.30 L190.45,574.30 L193.96,574.30 L197.47,574.30 L200.98,574.30 L204.50,574.30 L208.01,573.69 L211.52,572.01 L215.03,569.68 L218.54,567.22 L222.06,564.78 L225.57,563.12 L229.08,562.05 L232.59,559.51 L236.10,557.01 L239.62,554.64 L243.13,552.96 L246.64,551.45 L250.15,550.19 L253.66,553.10 L257.18,555.45 L260.69,552.24 L264.20,549.16 L267.71,548.32 L271.22,549.46"/>
<polygon points="50.56,574.30 48.51,577.85 44.41,577.85 42.36,574.30 44.41,570.75 48.51,570.75" fill="#000080"/><polygon points="54.07,574.30 52.02,577.85 47.92,577.85 45.87,574.30 47.92,570.75 52.02,570.75" fill="#000080"/><polygon points="57.58,574.30 55.53,577.85 51.43,577.85 49.38,574.30 51.43,570.75 55.53,570.75" fill="#000080"/><polygon points="61.09,574.30 59.04,577.85 54.94,577.85 52.89,574.30 54.94,570.75 59.04,570.75" fill="#000080"/><polygon points="64.60,574.30 62.55,577.85 58.45,577.85 56.40,574.30 58.45,570.75 62.55,570.75" fill="#000080"/><polygon points="68.12,574.30 66.07,577.85 61.97,577.85 59.92,574.30 61.97,570.75 66.07,570.75" fill="#000080"/><polygon points="71.63,574.30 69.58,577.85 65.48,577.85 63.43,574.30 65.48,570.75 69.58,570.75" fill="#000080"/><polygon points="75.14,574.30 73.09,577.85 68.99,577.85 66.94,574.30 68.99,570.75 73.09,570.75" fill="#000080"/><polygon points="78.65,574.30 76.60,577.85 72.50,577.85 70.45,574.30 72.50,570.75 76.60,570.75" fill="#000080"/><polygon points="82.16,574.30 80.11,577.85 76.01,577.85 73.96,574.30 76.01,570.75 80.11,570.75" fill="#000080"/><polygon points="85.68,574.30 83.63,577.85 79.53,577.85 77.48,574.30 79.53,570.75 83.63,570.75" fill="#000080"/><polygon points="89.19,574.30 87.14,577.85 83.04,577.85 80.99,574.30 83.04,570.75 87.14,570.75" fill="#000080"/><polygon points="92.70,574.30 90.65,577.85 86.55,577.85 84.50,574.30 86.55,570.75 90.65,570.75" fill="#000080"/><polygon points="96.21,574.30 94.16,577.85 90.06,577.85 88.01,574.30 90.06,570.75 94.16,570.75" fill="#000080"/><polygon points="99.72,574.30 97.67,577.85 93.57,577.85 91.52,574.30 93.57,570.75 97.67,570.75" fill="#000080"/><polygon points="103.24,574.30 101.19,577.85 97.09,577.85 95.04,574.30 97.09,570.75 101.19,570.75" fill="#000080"/><polygon points="106.75,574.30 104.70,577.85 100.60,577.85 98.55,574.30 100.60,570.75 104.70,570.75" fill="#000080"/><polygon points="110.26,574.30 108.21,577.85 104.11,577.85 102.06,574.30 104.11,570.75 108.21,570.75" fill="#000080"/><polygon points="113.77,574.30 111.72,577.85 107.62,577.85 105.57,574.30 107.62,570.75 111.72,570.75" fill="#000080"/><polygon points="117.28,574.30 115.23,577.85 111.13,577.85 109.08,574.30 111.13,570.75 115.23,570.75" fill="#000080"/><polygon points="120.80,574.30 118.75,577.85 114.65,577.85 112.60,574.30 114.65,570.75 118.75,570.75" fill="#000080"/><polygon points="124.31,574.30 122.26,577.85 118.16,577.85 116.11,574.30 118.16,570.75 122.26,570.75" fill="#000080"/><polygon points="127.82,574.30 125.77,577.85 121.67,577.85 119.62,574.30 121.67,570.75 125.77,570.75" fill="#000080"/><polygon points="131.33,574.30 129.28,577.85 125.18,577.85 123.13,574.30 125.18,570.75 129.28,570.75" fill="#000080"/><polygon points="134.84,574.30 132.79,577.85 128.69,577.85 126.64,574.30 128.69,570.75 132.79,570.75" fill="#000080"/><polygon points="138.36,574.30 136.31,577.85 132.21,577.85 130.16,574.30 132.21,570.75 136.31,570.75" fill="#000080"/><polygon points="141.87,574.30 139.82,577.85 135.72,577.85 133.67,574.30 135.72,570.75 139.82,570.75" fill="#000080"/><polygon points="145.38,574.30 143.33,577.85 139.23,577.85 137.18,574.30 139.23,570.75 143.33,570.75" fill="#000080"/><polygon points="148.89,574.30 146.84,577.85 142.74,577.85 140.69,574.30 142.74,570.75 146.84,570.75" fill="#000080"/><polygon points="152.40,574.30 150.35,577.85 146.25,577.85 144.20,574.30 146.25,570.75 150.35,570.75" fill="#000080"/><polygon points="155.92,574.30 153.87,577.85 149.77,577.85 147.72,574.30 149.77,570.75 153.87,570.75" fill="#000080"/><polygon points="159.43,574.30 157.38,577.85 153.28,577.85 151.23,574.30 153.28,570.75 157.38,570.75" fill="#000080"/><polygon points="162.94,574.30 160.89,577.85 156.79,577.85 154.74,574.30 156.79,570.75 160.89,570.75" fill="#000080"/><polygon points="166.45,574.30 164.40,577.85 160.30,577.85 158.25,574.30 160.30,570.75 164.40,570.75" fill="#000080"/><polygon points="169.96,574.30 167.91,577.85 163.81,577.85 161.76,574.30 163.81,570.75 167.91,570.75" fill="#000080"/><polygon points="173.48,574.30 171.43,577.85 167.33,577.85 165.28,574.30 167.33,570.75 171.43,570.75" fill="#000080"/><polygon points="176.99,574.30 174.94,577.85 170.84,577.85 168.79,574.30 170.84,570.75 174.94,570.75" fill="#000080"/><polygon points="180.50,574.30 178.45,577.85 174.35,577.85 172.30,574.30 174.35,570.75 178.45,570.75" fill="#000080"/><polygon points="184.01,574.30 181.96,577.85 177.86,577.85 175.81,574.30 177.86,570.75 181.96,570.75" fill="#000080"/><polygon points="187.52,574.30 185.47,577.85 181.37,577.85 179.32,574.30 181.37,570.75 185.47,570.75" fill="#000080"/><polygon points="191.04,574.30 188.99,577.85 184.89,577.85 182.84,574.30 184.89,570.75 188.99,570.75" fill="#000080"/><polygon points="194.55,574.30 192.50,577.85 188.40,577.85 186.35,574.30 188.40,570.75 192.50,570.75" fill="#000080"/><polygon points="198.06,574.30 196.01,577.85 191.91,577.85 189.86,574.30 191.91,570.75 196.01,570.75" fill="#000080"/><polygon points="201.57,574.30 199.52,577.85 195.42,577.85 193.37,574.30 195.42,570.75 199.52,570.75" fill="#000080"/><polygon points="205.08,574.30 203.03,577.85 198.93,577.85 196.88,574.30 198.93,570.75 203.03,570.75" fill="#000080"/><polygon points="208.60,574.30 206.55,577.85 202.45,577.85 200.40,574.30 202.45,570.75 206.55,570.75" fill="#000080"/><polygon points="212.11,573.69 210.06,577.24 205.96,577.24 203.91,573.69 205.96,570.13 210.06,570.13" fill="#000080"/><polygon points="215.62,572.01 213.57,575.56 209.47,575.56 207.42,572.01 209.47,568.46 213.57,568.46" fill="#000080"/><polygon points="219.13,569.68 217.08,573.23 212.98,573.23 210.93,569.68 212.98,566.12 217.08,566.12" fill="#000080"/><polygon points="222.64,567.22 220.59,570.77 216.49,570.77 214.44,567.22 216.49,563.67 220.59,563.67" fill="#000080"/><polygon points="226.16,564.78 224.11,568.33 220.01,568.33 217.96,564.78 220.01,561.23 224.11,561.23" fill="#000080"/><polygon points="229.67,563.12 227.62,566.67 223.52,566.67 221.47,563.12 223.52,559.57 227.62,559.57" fill="#000080"/><polygon points="233.18,562.05 231.13,565.60 227.03,565.60 224.98,562.05 227.03,558.50 231.13,558.50" fill="#000080"/><polygon points="236.69,559.51 234.64,563.06 230.54,563.06 228.49,559.51 230.54,555.96 234.64,555.96" fill="#000080"/><polygon points="240.20,557.01 238.15,560.56 234.05,560.56 232.00,557.01 234.05,553.46 238.15,553.46" fill="#000080"/><polygon points="243.72,554.64 241.67,558.19 237.57,558.19 235.52,554.64 237.57,551.08 241.67,551.08" fill="#000080"/><polygon points="247.23,552.96 245.18,556.51 241.08,556.51 239.03,552.96 241.08,549.41 245.18,549.41" fill="#000080"/><polygon points="250.74,551.45 248.69,555.00 244.59,555.00 242.54,551.45 244.59,547.90 248.69,547.90" fill="#000080"/><polygon points="254.25,550.19 252.20,553.74 248.10,553.74 246.05,550.19 248.10,546.64 252.20,546.64" fill="#000080"/><polygon points="257.76,553.10 255.71,556.65 251.61,556.65 249.56,553.10 251.61,549.55 255.71,549.55" fill="#000080"/><polygon points="261.28,555.45 259.23,559.00 255.13,559.00 253.08,555.45 255.13,551.90 259.23,551.90" fill="#000080"/><polygon points="264.79,552.24 262.74,555.79 258.64,555.79 256.59,552.24 258.64,548.69 262.74,548.69" fill="#000080"/><polygon points="268.30,549.16 266.25,552.71 262.15,552.71 260.10,549.16 262.15,545.61 266.25,545.61" fill="#000080"/><polygon points="271.81,548.32 269.76,551.87 265.66,551.87 263.61,548.32 265.66,544.77 269.76,544.77" fill="#000080"/><polygon points="275.32,549.46 273.27,553.01 269.17,553.01 267.12,549.46 269.17,545.91 273.27,545.91" fill="#000080"/>
</g>
<g font-family="Liberation Sans, sans-serif" font-size="11" fill="#000">
<text x="39.4" y="577.90" text-anchor="end">0</text>
<text x="39.4" y="542.30" text-anchor="end">1</text>
<text x="39.4" y="506.70" text-anchor="end">2</text>
<text x="39.4" y="471.10" text-anchor="end">3</text>
<text x="39.4" y="435.50" text-anchor="end">4</text>
<text x="39.4" y="399.90" text-anchor="end">5</text>
<text x="39.4" y="364.30" text-anchor="end">6</text>
<text x="39.4" y="328.70" text-anchor="end">7</text>
<text x="44.70" y="588.6" text-anchor="middle">0.0</text>
<text x="79.82" y="588.6" text-anchor="middle">0.2</text>
<text x="114.94" y="588.6" text-anchor="middle">0.4</text>
<text x="150.06" y="588.6" text-anchor="middle">0.6</text>
<text x="185.18" y="588.6" text-anchor="middle">0.8</text>
<text x="220.30" y="588.6" text-anchor="middle">1.0</text>
<text x="255.42" y="588.6" text-anchor="middle">1.2</text>
<text x="290.54" y="588.6" text-anchor="middle">1.4</text>
<text x="325.66" y="588.6" text-anchor="middle">1.6</text>
</g>
<text font-family="Liberation Sans, sans-serif" font-size="15" fill="#000" text-anchor="middle" transform="translate(25.8,451.5) rotate(-90)">Wall Plug Efficiency (%)</text>
<text font-family="Liberation Sans, sans-serif" font-size="15" fill="#000" text-anchor="middle" x="204.4" y="606.3">Current (A)</text>
<text font-family="Liberation Sans, sans-serif" font-size="26" fill="#000" x="61" y="360.6">(b)</text>
<g font-family="Liberation Sans, sans-serif" font-size="11.5" fill="#000">
<text x="59.6" y="455.20"><tspan font-family="Liberation Serif" font-size="10.5" fill="#444">λ</tspan> ~ 3.7 <tspan font-family="Liberation Serif" font-size="10.5" fill="#444">μ</tspan>m QCL</text>
<text x="59.6" y="469.10">L = 4 mm</text>
<text x="59.6" y="483.00">W = 8.3 <tspan font-family="Liberation Serif" font-size="10.5" fill="#444">μ</tspan>m</text>
<text x="59.6" y="496.90">HR coated</text>
<text x="59.6" y="510.80">buried ridge</text>
<text x="59.6" y="524.70">epilayer-down</text>
<text x="59.6" y="538.60">diamond submt.</text>
</g>
<text font-family="Liberation Sans, sans-serif" font-size="10.8" fill="#FF0000" x="319.6" y="432.1">25<tspan font-size="8" dx="0.4" dy="-5.3">0</tspan><tspan dx="0.3" dy="5.3">C</tspan></text>
<text font-family="Liberation Sans, sans-serif" font-size="10.8" fill="#00FF00" x="314.1" y="455.0">35<tspan font-size="8" dx="0.4" dy="-5.3">0</tspan><tspan dx="0.3" dy="5.3">C</tspan></text>
<text font-family="Liberation Sans, sans-serif" font-size="10.8" fill="#0000FF" x="308.8" y="474.8">45<tspan font-size="8" dx="0.4" dy="-5.3">0</tspan><tspan dx="0.3" dy="5.3">C</tspan></text>
<text font-family="Liberation Sans, sans-serif" font-size="10.8" fill="#00FFFF" x="306.6" y="492.3">55<tspan font-size="8" dx="0.4" dy="-5.3">0</tspan><tspan dx="0.3" dy="5.3">C</tspan></text>
<text font-family="Liberation Sans, sans-serif" font-size="10.8" fill="#FF00FF" x="297.7" y="511.6">65<tspan font-size="8" dx="0.4" dy="-5.3">0</tspan><tspan dx="0.3" dy="5.3">C</tspan></text>
<text font-family="Liberation Sans, sans-serif" font-size="10.8" fill="#FFFF00" x="292.7" y="530.4">75<tspan font-size="8" dx="0.4" dy="-5.3">0</tspan><tspan dx="0.3" dy="5.3">C</tspan></text>
<text font-family="Liberation Sans, sans-serif" font-size="10.8" fill="#808000" x="283.4" y="547.2">85<tspan font-size="8" dx="0.4" dy="-5.3">0</tspan><tspan dx="0.3" dy="5.3">C</tspan></text>
<text font-family="Liberation Sans, sans-serif" font-size="10.8" fill="#000080" x="279.5" y="564.0">95<tspan font-size="8" dx="0.4" dy="-5.3">0</tspan><tspan dx="0.3" dy="5.3">C</tspan></text>
<text font-family="Liberation Sans, sans-serif" font-size="13" fill="#FF0000" x="289" y="348.3">6%</text>
<line x1="275.8" y1="346.7" x2="249" y2="354.9" stroke="#FF0000" stroke-width="1.3"/>
<path d="M244.8,356.2 L250.5,351.9 L251.6,356.6 Z" fill="#FF0000"/>
</svg></body></html>
